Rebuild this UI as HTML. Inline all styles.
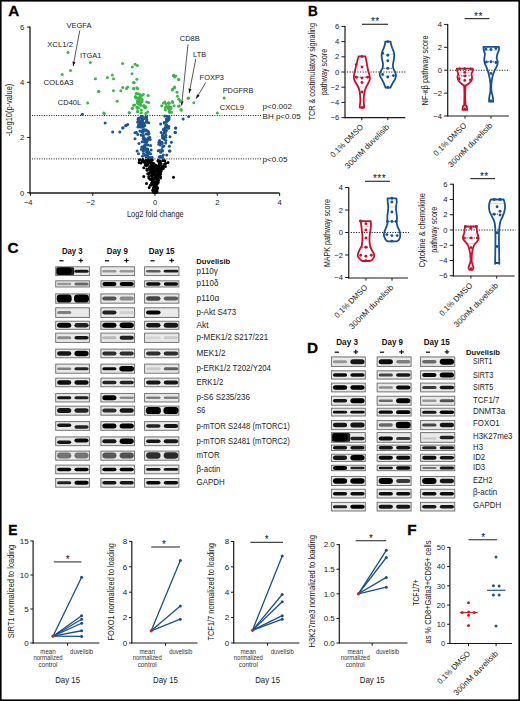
<!DOCTYPE html>
<html><head><meta charset="utf-8"><style>
html,body{margin:0;padding:0;background:#fff;}
svg{display:block;font-family:"Liberation Sans", sans-serif;}
</style></head><body>
<svg width="520" height="701" viewBox="0 0 520 701">
<defs><filter id="bl" x="-30%" y="-60%" width="160%" height="220%"><feGaussianBlur stdDeviation="0.65"/></filter><filter id="bs" x="-10%" y="-30%" width="120%" height="160%"><feGaussianBlur stdDeviation="0.35"/></filter></defs>
<rect x="0" y="0" width="520" height="701" fill="#fff"/>
<text x="8.2" y="16.4" font-size="15.3" text-anchor="start" font-weight="bold" fill="#000" stroke="#000" stroke-width="0.3">A</text>
<line x1="30" y1="26.5" x2="30" y2="193.6" stroke="#1a1a1a" stroke-width="1.3" />
<line x1="29.4" y1="192.9" x2="279.5" y2="192.9" stroke="#1a1a1a" stroke-width="1.5" />
<line x1="27.2" y1="192.7" x2="30" y2="192.7" stroke="#1a1a1a" stroke-width="1.1" />
<text x="24.3" y="195.6" font-size="7.7" text-anchor="end" font-weight="normal" fill="#222" >0</text>
<line x1="27.2" y1="137.5" x2="30" y2="137.5" stroke="#1a1a1a" stroke-width="1.1" />
<text x="24.3" y="140.4" font-size="7.7" text-anchor="end" font-weight="normal" fill="#222" >2</text>
<line x1="27.2" y1="82.29999999999998" x2="30" y2="82.29999999999998" stroke="#1a1a1a" stroke-width="1.1" />
<text x="24.3" y="85.19999999999999" font-size="7.7" text-anchor="end" font-weight="normal" fill="#222" >4</text>
<line x1="27.2" y1="27.099999999999966" x2="30" y2="27.099999999999966" stroke="#1a1a1a" stroke-width="1.1" />
<text x="24.3" y="29.999999999999964" font-size="7.7" text-anchor="end" font-weight="normal" fill="#222" >6</text>
<line x1="30.400000000000006" y1="193" x2="30.400000000000006" y2="195.8" stroke="#1a1a1a" stroke-width="1.1" />
<text x="32.60000000000001" y="204.7" font-size="7.6" text-anchor="end" font-weight="normal" fill="#222" >−4</text>
<line x1="92.7" y1="193" x2="92.7" y2="195.8" stroke="#1a1a1a" stroke-width="1.1" />
<text x="94.9" y="204.7" font-size="7.6" text-anchor="end" font-weight="normal" fill="#222" >−2</text>
<line x1="155.0" y1="193" x2="155.0" y2="195.8" stroke="#1a1a1a" stroke-width="1.1" />
<text x="157.2" y="204.7" font-size="7.6" text-anchor="end" font-weight="normal" fill="#222" >0</text>
<line x1="217.3" y1="193" x2="217.3" y2="195.8" stroke="#1a1a1a" stroke-width="1.1" />
<text x="219.5" y="204.7" font-size="7.6" text-anchor="end" font-weight="normal" fill="#222" >2</text>
<line x1="279.6" y1="193" x2="279.6" y2="195.8" stroke="#1a1a1a" stroke-width="1.1" />
<text x="281.8" y="204.7" font-size="7.6" text-anchor="end" font-weight="normal" fill="#222" >4</text>
<text x="127.0" y="216.5" font-size="9" text-anchor="start" font-weight="normal" fill="#222" textLength="56.6" lengthAdjust="spacingAndGlyphs" >Log2 fold change</text>
<text transform="translate(12.2,110) rotate(-90)" x="0" y="0" font-size="8.3" text-anchor="middle" font-weight="normal" fill="#222" textLength="52.5" lengthAdjust="spacingAndGlyphs" >-Log10(p-value)</text>
<line x1="32" y1="115.5" x2="261.5" y2="115.5" stroke="#222" stroke-width="1" stroke-dasharray="1 1.4"/>
<line x1="32" y1="158.9" x2="261.5" y2="158.9" stroke="#222" stroke-width="1" stroke-dasharray="1 1.4"/>
<text x="262.6" y="109.1" font-size="8" text-anchor="start" font-weight="normal" fill="#1a1a1a" textLength="29.4" lengthAdjust="spacingAndGlyphs" >p&lt;0.002</text>
<text x="262.6" y="119" font-size="8" text-anchor="start" font-weight="normal" fill="#1a1a1a" textLength="38" lengthAdjust="spacingAndGlyphs" >BH p&lt;0.05</text>
<text x="262.6" y="161.9" font-size="8" text-anchor="start" font-weight="normal" fill="#1a1a1a" textLength="25" lengthAdjust="spacingAndGlyphs" >p&lt;0.05</text>
<text x="66.4" y="27.9" font-size="7.6" text-anchor="start" font-weight="normal" fill="#1a1a1a" textLength="25.2" lengthAdjust="spacingAndGlyphs" >VEGFA</text>
<text x="47.2" y="46.9" font-size="7.6" text-anchor="start" font-weight="normal" fill="#1a1a1a" textLength="25.8" lengthAdjust="spacingAndGlyphs" >XCL1/2</text>
<text x="79.9" y="57.9" font-size="7.6" text-anchor="start" font-weight="normal" fill="#1a1a1a" textLength="21.4" lengthAdjust="spacingAndGlyphs" >ITGA1</text>
<text x="43.4" y="84.6" font-size="7.6" text-anchor="start" font-weight="normal" fill="#1a1a1a" textLength="30.1" lengthAdjust="spacingAndGlyphs" >COL6A3</text>
<text x="57.8" y="105.4" font-size="7.6" text-anchor="start" font-weight="normal" fill="#1a1a1a" textLength="23.4" lengthAdjust="spacingAndGlyphs" >CD40L</text>
<text x="179.8" y="41.4" font-size="7.6" text-anchor="start" font-weight="normal" fill="#1a1a1a" textLength="20" lengthAdjust="spacingAndGlyphs" >CD8B</text>
<text x="193.1" y="57" font-size="7.6" text-anchor="start" font-weight="normal" fill="#1a1a1a" textLength="13" lengthAdjust="spacingAndGlyphs" >LTB</text>
<text x="199.6" y="80" font-size="7.6" text-anchor="start" font-weight="normal" fill="#1a1a1a" textLength="24.4" lengthAdjust="spacingAndGlyphs" >FOXP3</text>
<text x="222.7" y="93.4" font-size="7.6" text-anchor="start" font-weight="normal" fill="#1a1a1a" textLength="30.6" lengthAdjust="spacingAndGlyphs" >PDGFRB</text>
<text x="219.7" y="109.5" font-size="7.6" text-anchor="start" font-weight="normal" fill="#1a1a1a" textLength="24.4" lengthAdjust="spacingAndGlyphs" >CXCL9</text>
<line x1="79.8" y1="30.4" x2="73.2" y2="66.0" stroke="#111" stroke-width="0.7" />
<polygon points="73.20,66.00 72.39,61.58 75.54,62.16" fill="#111"/>
<line x1="188" y1="44.3" x2="181.6" y2="105.5" stroke="#111" stroke-width="0.7" />
<polygon points="181.60,105.50 180.45,101.16 183.63,101.49" fill="#111"/>
<line x1="195.8" y1="58.8" x2="189.2" y2="93" stroke="#111" stroke-width="0.7" />
<polygon points="189.20,93.00 188.42,88.57 191.57,89.18" fill="#111"/>
<line x1="205.8" y1="82.4" x2="196.2" y2="98.6" stroke="#111" stroke-width="0.7" />
<polygon points="196.20,98.60 196.96,94.17 199.72,95.80" fill="#111"/>
<circle cx="82.3" cy="114.3" r="1.5" fill="#1a5590"/>
<circle cx="105.1" cy="123.1" r="1.5" fill="#1a5590"/>
<circle cx="123.1" cy="127.7" r="1.5" fill="#1a5590"/>
<circle cx="127.7" cy="124.6" r="1.5" fill="#1a5590"/>
<circle cx="112.7" cy="132.0" r="1.5" fill="#1a5590"/>
<circle cx="119.8" cy="132.0" r="1.5" fill="#1a5590"/>
<circle cx="122.7" cy="128.0" r="1.5" fill="#1a5590"/>
<circle cx="125.6" cy="125.6" r="1.5" fill="#1a5590"/>
<circle cx="126.3" cy="125.4" r="1.5" fill="#1a5590"/>
<circle cx="135.0" cy="138.8" r="1.5" fill="#1a5590"/>
<circle cx="137.1" cy="151.0" r="1.5" fill="#1a5590"/>
<circle cx="138.5" cy="153.7" r="1.5" fill="#1a5590"/>
<circle cx="175.5" cy="128.0" r="1.5" fill="#1a5590"/>
<circle cx="175.5" cy="132.4" r="1.5" fill="#1a5590"/>
<circle cx="170.0" cy="136.8" r="1.5" fill="#1a5590"/>
<circle cx="171.4" cy="142.2" r="1.5" fill="#1a5590"/>
<circle cx="169.4" cy="146.2" r="1.5" fill="#1a5590"/>
<circle cx="169.4" cy="151.0" r="1.5" fill="#1a5590"/>
<circle cx="183.1" cy="118.9" r="1.5" fill="#1a5590"/>
<circle cx="188.7" cy="116.6" r="1.5" fill="#1a5590"/>
<circle cx="175.8" cy="128.0" r="1.5" fill="#1a5590"/>
<circle cx="175.0" cy="132.3" r="1.5" fill="#1a5590"/>
<circle cx="166.7" cy="155.0" r="1.5" fill="#1a5590"/>
<circle cx="170.0" cy="151.0" r="1.5" fill="#1a5590"/>
<circle cx="138.4" cy="118.3" r="1.5" fill="#1a5590"/>
<circle cx="148.3" cy="153.8" r="1.5" fill="#1a5590"/>
<circle cx="141.6" cy="149.5" r="1.5" fill="#1a5590"/>
<circle cx="142.9" cy="132.5" r="1.5" fill="#1a5590"/>
<circle cx="146.4" cy="142.6" r="1.5" fill="#1a5590"/>
<circle cx="144.0" cy="118.6" r="1.5" fill="#1a5590"/>
<circle cx="143.5" cy="122.8" r="1.5" fill="#1a5590"/>
<circle cx="143.8" cy="130.3" r="1.5" fill="#1a5590"/>
<circle cx="142.5" cy="122.4" r="1.5" fill="#1a5590"/>
<circle cx="141.7" cy="120.3" r="1.5" fill="#1a5590"/>
<circle cx="147.6" cy="152.7" r="1.5" fill="#1a5590"/>
<circle cx="146.7" cy="141.8" r="1.5" fill="#1a5590"/>
<circle cx="145.6" cy="130.6" r="1.5" fill="#1a5590"/>
<circle cx="148.1" cy="131.3" r="1.5" fill="#1a5590"/>
<circle cx="151.1" cy="157.7" r="1.5" fill="#1a5590"/>
<circle cx="143.3" cy="135.6" r="1.5" fill="#1a5590"/>
<circle cx="142.3" cy="120.3" r="1.5" fill="#1a5590"/>
<circle cx="143.2" cy="130.4" r="1.5" fill="#1a5590"/>
<circle cx="148.7" cy="122.8" r="1.5" fill="#1a5590"/>
<circle cx="145.7" cy="117.0" r="1.5" fill="#1a5590"/>
<circle cx="141.2" cy="122.2" r="1.5" fill="#1a5590"/>
<circle cx="148.5" cy="138.8" r="1.5" fill="#1a5590"/>
<circle cx="148.3" cy="157.1" r="1.5" fill="#1a5590"/>
<circle cx="146.5" cy="152.3" r="1.5" fill="#1a5590"/>
<circle cx="141.6" cy="131.4" r="1.5" fill="#1a5590"/>
<circle cx="143.1" cy="123.0" r="1.5" fill="#1a5590"/>
<circle cx="143.4" cy="148.7" r="1.5" fill="#1a5590"/>
<circle cx="144.6" cy="129.8" r="1.5" fill="#1a5590"/>
<circle cx="152.1" cy="157.4" r="1.5" fill="#1a5590"/>
<circle cx="148.6" cy="151.8" r="1.5" fill="#1a5590"/>
<circle cx="141.8" cy="147.1" r="1.5" fill="#1a5590"/>
<circle cx="140.0" cy="125.5" r="1.5" fill="#1a5590"/>
<circle cx="141.3" cy="117.2" r="1.5" fill="#1a5590"/>
<circle cx="141.2" cy="117.2" r="1.5" fill="#1a5590"/>
<circle cx="148.0" cy="145.1" r="1.5" fill="#1a5590"/>
<circle cx="142.5" cy="156.2" r="1.5" fill="#1a5590"/>
<circle cx="149.7" cy="157.5" r="1.5" fill="#1a5590"/>
<circle cx="146.6" cy="156.1" r="1.5" fill="#1a5590"/>
<circle cx="144.7" cy="125.5" r="1.5" fill="#1a5590"/>
<circle cx="144.1" cy="124.3" r="1.5" fill="#1a5590"/>
<circle cx="150.6" cy="153.8" r="1.5" fill="#1a5590"/>
<circle cx="143.4" cy="151.3" r="1.5" fill="#1a5590"/>
<circle cx="147.2" cy="149.6" r="1.5" fill="#1a5590"/>
<circle cx="138.1" cy="119.6" r="1.5" fill="#1a5590"/>
<circle cx="141.8" cy="148.9" r="1.5" fill="#1a5590"/>
<circle cx="144.8" cy="147.5" r="1.5" fill="#1a5590"/>
<circle cx="146.8" cy="149.1" r="1.5" fill="#1a5590"/>
<circle cx="146.3" cy="130.0" r="1.5" fill="#1a5590"/>
<circle cx="136.4" cy="132.6" r="1.5" fill="#1a5590"/>
<circle cx="148.7" cy="132.9" r="1.5" fill="#1a5590"/>
<circle cx="140.9" cy="123.1" r="1.5" fill="#1a5590"/>
<circle cx="146.6" cy="121.3" r="1.5" fill="#1a5590"/>
<circle cx="151.2" cy="149.9" r="1.5" fill="#1a5590"/>
<circle cx="146.8" cy="122.1" r="1.5" fill="#1a5590"/>
<circle cx="139.0" cy="143.6" r="1.5" fill="#1a5590"/>
<circle cx="142.2" cy="130.7" r="1.5" fill="#1a5590"/>
<circle cx="141.0" cy="116.6" r="1.5" fill="#1a5590"/>
<circle cx="146.1" cy="156.8" r="1.5" fill="#1a5590"/>
<circle cx="145.2" cy="155.2" r="1.5" fill="#1a5590"/>
<circle cx="148.2" cy="134.2" r="1.5" fill="#1a5590"/>
<circle cx="138.5" cy="124.9" r="1.5" fill="#1a5590"/>
<circle cx="142.5" cy="126.6" r="1.5" fill="#1a5590"/>
<circle cx="147.3" cy="140.6" r="1.5" fill="#1a5590"/>
<circle cx="141.7" cy="126.9" r="1.5" fill="#1a5590"/>
<circle cx="148.0" cy="154.2" r="1.5" fill="#1a5590"/>
<circle cx="139.9" cy="130.9" r="1.5" fill="#1a5590"/>
<circle cx="148.2" cy="154.0" r="1.5" fill="#1a5590"/>
<circle cx="147.3" cy="133.7" r="1.5" fill="#1a5590"/>
<circle cx="143.3" cy="138.3" r="1.5" fill="#1a5590"/>
<circle cx="148.0" cy="138.0" r="1.5" fill="#1a5590"/>
<circle cx="143.1" cy="123.7" r="1.5" fill="#1a5590"/>
<circle cx="142.2" cy="116.2" r="1.5" fill="#1a5590"/>
<circle cx="142.9" cy="135.9" r="1.5" fill="#1a5590"/>
<circle cx="144.0" cy="146.5" r="1.5" fill="#1a5590"/>
<circle cx="144.0" cy="137.8" r="1.5" fill="#1a5590"/>
<circle cx="145.4" cy="139.3" r="1.5" fill="#1a5590"/>
<circle cx="143.8" cy="139.5" r="1.5" fill="#1a5590"/>
<circle cx="142.2" cy="126.4" r="1.5" fill="#1a5590"/>
<circle cx="149.7" cy="137.3" r="1.5" fill="#1a5590"/>
<circle cx="145.5" cy="139.6" r="1.5" fill="#1a5590"/>
<circle cx="137.8" cy="134.6" r="1.5" fill="#1a5590"/>
<circle cx="142.2" cy="141.7" r="1.5" fill="#1a5590"/>
<circle cx="145.9" cy="145.1" r="1.5" fill="#1a5590"/>
<circle cx="141.1" cy="135.0" r="1.5" fill="#1a5590"/>
<circle cx="147.1" cy="155.5" r="1.5" fill="#1a5590"/>
<circle cx="150.6" cy="145.4" r="1.5" fill="#1a5590"/>
<circle cx="137.9" cy="126.9" r="1.5" fill="#1a5590"/>
<circle cx="150.2" cy="139.5" r="1.5" fill="#1a5590"/>
<circle cx="140.2" cy="121.8" r="1.5" fill="#1a5590"/>
<circle cx="141.1" cy="121.1" r="1.5" fill="#1a5590"/>
<circle cx="143.5" cy="126.1" r="1.5" fill="#1a5590"/>
<circle cx="139.1" cy="119.1" r="1.5" fill="#1a5590"/>
<circle cx="143.6" cy="153.7" r="1.5" fill="#1a5590"/>
<circle cx="141.5" cy="122.5" r="1.5" fill="#1a5590"/>
<circle cx="137.6" cy="122.0" r="1.5" fill="#1a5590"/>
<circle cx="148.9" cy="153.1" r="1.5" fill="#1a5590"/>
<circle cx="147.4" cy="156.0" r="1.5" fill="#1a5590"/>
<circle cx="135.0" cy="132.7" r="1.5" fill="#1a5590"/>
<circle cx="147.5" cy="151.0" r="1.5" fill="#1a5590"/>
<circle cx="138.9" cy="122.8" r="1.5" fill="#1a5590"/>
<circle cx="145.3" cy="130.2" r="1.5" fill="#1a5590"/>
<circle cx="140.6" cy="124.2" r="1.5" fill="#1a5590"/>
<circle cx="146.7" cy="116.8" r="1.5" fill="#1a5590"/>
<circle cx="144.6" cy="139.3" r="1.5" fill="#1a5590"/>
<circle cx="143.9" cy="129.9" r="1.5" fill="#1a5590"/>
<circle cx="144.6" cy="142.2" r="1.5" fill="#1a5590"/>
<circle cx="147.8" cy="157.4" r="1.5" fill="#1a5590"/>
<circle cx="147.8" cy="149.1" r="1.5" fill="#1a5590"/>
<circle cx="143.0" cy="127.2" r="1.5" fill="#1a5590"/>
<circle cx="142.3" cy="117.7" r="1.5" fill="#1a5590"/>
<circle cx="139.7" cy="121.4" r="1.5" fill="#1a5590"/>
<circle cx="148.9" cy="133.7" r="1.5" fill="#1a5590"/>
<circle cx="140.1" cy="126.9" r="1.5" fill="#1a5590"/>
<circle cx="146.2" cy="122.3" r="1.5" fill="#1a5590"/>
<circle cx="144.4" cy="145.4" r="1.5" fill="#1a5590"/>
<circle cx="146.9" cy="119.8" r="1.5" fill="#1a5590"/>
<circle cx="145.9" cy="133.9" r="1.5" fill="#1a5590"/>
<circle cx="146.5" cy="119.0" r="1.5" fill="#1a5590"/>
<circle cx="145.4" cy="149.7" r="1.5" fill="#1a5590"/>
<circle cx="142.8" cy="119.5" r="1.5" fill="#1a5590"/>
<circle cx="160.8" cy="152.2" r="1.5" fill="#1a5590"/>
<circle cx="162.6" cy="135.1" r="1.5" fill="#1a5590"/>
<circle cx="163.3" cy="154.9" r="1.5" fill="#1a5590"/>
<circle cx="167.1" cy="127.3" r="1.5" fill="#1a5590"/>
<circle cx="167.4" cy="126.0" r="1.5" fill="#1a5590"/>
<circle cx="166.7" cy="120.6" r="1.5" fill="#1a5590"/>
<circle cx="166.3" cy="124.5" r="1.5" fill="#1a5590"/>
<circle cx="163.7" cy="129.1" r="1.5" fill="#1a5590"/>
<circle cx="168.6" cy="128.2" r="1.5" fill="#1a5590"/>
<circle cx="164.6" cy="137.0" r="1.5" fill="#1a5590"/>
<circle cx="168.7" cy="116.8" r="1.5" fill="#1a5590"/>
<circle cx="168.9" cy="126.5" r="1.5" fill="#1a5590"/>
<circle cx="163.8" cy="139.1" r="1.5" fill="#1a5590"/>
<circle cx="160.7" cy="124.0" r="1.5" fill="#1a5590"/>
<circle cx="167.1" cy="120.5" r="1.5" fill="#1a5590"/>
<circle cx="159.3" cy="150.4" r="1.5" fill="#1a5590"/>
<circle cx="162.6" cy="151.1" r="1.5" fill="#1a5590"/>
<circle cx="161.1" cy="132.5" r="1.5" fill="#1a5590"/>
<circle cx="160.5" cy="157.3" r="1.5" fill="#1a5590"/>
<circle cx="166.5" cy="130.4" r="1.5" fill="#1a5590"/>
<circle cx="159.9" cy="142.7" r="1.5" fill="#1a5590"/>
<circle cx="163.9" cy="133.0" r="1.5" fill="#1a5590"/>
<circle cx="166.8" cy="121.5" r="1.5" fill="#1a5590"/>
<circle cx="166.4" cy="119.0" r="1.5" fill="#1a5590"/>
<circle cx="164.3" cy="122.9" r="1.5" fill="#1a5590"/>
<circle cx="168.9" cy="119.5" r="1.5" fill="#1a5590"/>
<circle cx="158.9" cy="144.2" r="1.5" fill="#1a5590"/>
<circle cx="165.3" cy="127.8" r="1.5" fill="#1a5590"/>
<circle cx="165.8" cy="135.3" r="1.5" fill="#1a5590"/>
<circle cx="164.4" cy="122.6" r="1.5" fill="#1a5590"/>
<circle cx="161.3" cy="156.4" r="1.5" fill="#1a5590"/>
<circle cx="159.1" cy="156.9" r="1.5" fill="#1a5590"/>
<circle cx="160.2" cy="156.6" r="1.5" fill="#1a5590"/>
<circle cx="164.9" cy="129.0" r="1.5" fill="#1a5590"/>
<circle cx="164.6" cy="132.0" r="1.5" fill="#1a5590"/>
<circle cx="162.4" cy="135.9" r="1.5" fill="#1a5590"/>
<circle cx="163.7" cy="137.2" r="1.5" fill="#1a5590"/>
<circle cx="166.9" cy="116.2" r="1.5" fill="#1a5590"/>
<circle cx="165.4" cy="132.8" r="1.5" fill="#1a5590"/>
<circle cx="168.6" cy="117.8" r="1.5" fill="#1a5590"/>
<circle cx="165.8" cy="125.8" r="1.5" fill="#1a5590"/>
<circle cx="159.6" cy="140.6" r="1.5" fill="#1a5590"/>
<circle cx="162.1" cy="143.6" r="1.5" fill="#1a5590"/>
<circle cx="163.9" cy="146.1" r="1.5" fill="#1a5590"/>
<circle cx="163.4" cy="129.7" r="1.5" fill="#1a5590"/>
<circle cx="162.7" cy="157.4" r="1.5" fill="#1a5590"/>
<circle cx="165.7" cy="143.0" r="1.5" fill="#1a5590"/>
<circle cx="169.1" cy="117.8" r="1.5" fill="#1a5590"/>
<circle cx="158.9" cy="142.3" r="1.5" fill="#1a5590"/>
<circle cx="162.7" cy="146.8" r="1.5" fill="#1a5590"/>
<circle cx="162.5" cy="138.0" r="1.5" fill="#1a5590"/>
<circle cx="165.7" cy="137.2" r="1.5" fill="#1a5590"/>
<circle cx="158.2" cy="150.7" r="1.5" fill="#1a5590"/>
<circle cx="165.8" cy="140.5" r="1.5" fill="#1a5590"/>
<circle cx="160.4" cy="145.1" r="1.5" fill="#1a5590"/>
<circle cx="166.7" cy="125.7" r="1.5" fill="#1a5590"/>
<circle cx="164.9" cy="131.1" r="1.5" fill="#1a5590"/>
<circle cx="167.8" cy="120.4" r="1.5" fill="#1a5590"/>
<circle cx="160.5" cy="142.4" r="1.5" fill="#1a5590"/>
<circle cx="161.9" cy="142.3" r="1.5" fill="#1a5590"/>
<circle cx="164.7" cy="116.1" r="1.5" fill="#1a5590"/>
<circle cx="161.8" cy="149.5" r="1.5" fill="#1a5590"/>
<circle cx="139.1" cy="162.5" r="1.5" fill="#000"/>
<circle cx="168.0" cy="162.5" r="1.5" fill="#000"/>
<circle cx="173.5" cy="177.3" r="1.5" fill="#000"/>
<circle cx="143.8" cy="176.6" r="1.5" fill="#000"/>
<circle cx="146.5" cy="183.4" r="1.5" fill="#000"/>
<circle cx="149.2" cy="187.4" r="1.5" fill="#000"/>
<circle cx="165.4" cy="166.5" r="1.5" fill="#000"/>
<circle cx="161.0" cy="171.0" r="1.5" fill="#000"/>
<circle cx="163.0" cy="160.5" r="1.5" fill="#000"/>
<circle cx="154.8" cy="177.2" r="1.5" fill="#000"/>
<circle cx="160.0" cy="161.7" r="1.5" fill="#000"/>
<circle cx="159.7" cy="168.3" r="1.5" fill="#000"/>
<circle cx="162.3" cy="166.3" r="1.5" fill="#000"/>
<circle cx="150.9" cy="172.1" r="1.5" fill="#000"/>
<circle cx="154.7" cy="182.1" r="1.5" fill="#000"/>
<circle cx="145.7" cy="162.1" r="1.5" fill="#000"/>
<circle cx="157.6" cy="167.9" r="1.5" fill="#000"/>
<circle cx="152.3" cy="159.9" r="1.5" fill="#000"/>
<circle cx="157.2" cy="168.4" r="1.5" fill="#000"/>
<circle cx="146.8" cy="169.1" r="1.5" fill="#000"/>
<circle cx="155.4" cy="174.8" r="1.5" fill="#000"/>
<circle cx="163.1" cy="166.1" r="1.5" fill="#000"/>
<circle cx="152.7" cy="190.4" r="1.5" fill="#000"/>
<circle cx="155.3" cy="191.4" r="1.5" fill="#000"/>
<circle cx="152.3" cy="168.4" r="1.5" fill="#000"/>
<circle cx="152.1" cy="178.7" r="1.5" fill="#000"/>
<circle cx="159.8" cy="176.8" r="1.5" fill="#000"/>
<circle cx="160.2" cy="176.3" r="1.5" fill="#000"/>
<circle cx="154.9" cy="182.7" r="1.5" fill="#000"/>
<circle cx="145.9" cy="160.3" r="1.5" fill="#000"/>
<circle cx="151.6" cy="175.7" r="1.5" fill="#000"/>
<circle cx="152.4" cy="170.9" r="1.5" fill="#000"/>
<circle cx="154.1" cy="187.2" r="1.5" fill="#000"/>
<circle cx="153.9" cy="163.5" r="1.5" fill="#000"/>
<circle cx="155.9" cy="183.0" r="1.5" fill="#000"/>
<circle cx="160.1" cy="172.5" r="1.5" fill="#000"/>
<circle cx="151.2" cy="178.9" r="1.5" fill="#000"/>
<circle cx="149.7" cy="161.1" r="1.5" fill="#000"/>
<circle cx="155.0" cy="187.0" r="1.5" fill="#000"/>
<circle cx="149.6" cy="168.3" r="1.5" fill="#000"/>
<circle cx="155.9" cy="165.8" r="1.5" fill="#000"/>
<circle cx="155.1" cy="186.3" r="1.5" fill="#000"/>
<circle cx="153.7" cy="189.6" r="1.5" fill="#000"/>
<circle cx="158.6" cy="161.1" r="1.5" fill="#000"/>
<circle cx="156.5" cy="174.4" r="1.5" fill="#000"/>
<circle cx="158.1" cy="161.1" r="1.5" fill="#000"/>
<circle cx="147.9" cy="163.7" r="1.5" fill="#000"/>
<circle cx="157.2" cy="183.9" r="1.5" fill="#000"/>
<circle cx="157.6" cy="168.1" r="1.5" fill="#000"/>
<circle cx="154.4" cy="172.5" r="1.5" fill="#000"/>
<circle cx="152.6" cy="164.8" r="1.5" fill="#000"/>
<circle cx="157.1" cy="166.8" r="1.5" fill="#000"/>
<circle cx="155.4" cy="192.4" r="1.5" fill="#000"/>
<circle cx="150.6" cy="162.5" r="1.5" fill="#000"/>
<circle cx="148.8" cy="162.5" r="1.5" fill="#000"/>
<circle cx="157.0" cy="188.8" r="1.5" fill="#000"/>
<circle cx="149.2" cy="173.1" r="1.5" fill="#000"/>
<circle cx="150.6" cy="170.7" r="1.5" fill="#000"/>
<circle cx="160.8" cy="168.7" r="1.5" fill="#000"/>
<circle cx="158.2" cy="180.3" r="1.5" fill="#000"/>
<circle cx="150.1" cy="166.6" r="1.5" fill="#000"/>
<circle cx="159.9" cy="174.2" r="1.5" fill="#000"/>
<circle cx="156.0" cy="187.5" r="1.5" fill="#000"/>
<circle cx="156.4" cy="182.9" r="1.5" fill="#000"/>
<circle cx="159.6" cy="175.1" r="1.5" fill="#000"/>
<circle cx="155.3" cy="190.1" r="1.5" fill="#000"/>
<circle cx="155.6" cy="187.7" r="1.5" fill="#000"/>
<circle cx="151.1" cy="164.6" r="1.5" fill="#000"/>
<circle cx="156.0" cy="182.0" r="1.5" fill="#000"/>
<circle cx="151.5" cy="184.7" r="1.5" fill="#000"/>
<circle cx="152.7" cy="177.7" r="1.5" fill="#000"/>
<circle cx="154.6" cy="189.9" r="1.5" fill="#000"/>
<circle cx="150.7" cy="169.5" r="1.5" fill="#000"/>
<circle cx="155.7" cy="182.6" r="1.5" fill="#000"/>
<circle cx="145.9" cy="161.8" r="1.5" fill="#000"/>
<circle cx="157.6" cy="166.9" r="1.5" fill="#000"/>
<circle cx="139.5" cy="159.8" r="1.5" fill="#000"/>
<circle cx="157.7" cy="180.8" r="1.5" fill="#000"/>
<circle cx="152.0" cy="175.2" r="1.5" fill="#000"/>
<circle cx="157.6" cy="182.8" r="1.5" fill="#000"/>
<circle cx="146.6" cy="160.2" r="1.5" fill="#000"/>
<circle cx="156.2" cy="168.0" r="1.5" fill="#000"/>
<circle cx="155.6" cy="190.0" r="1.5" fill="#000"/>
<circle cx="158.2" cy="173.4" r="1.5" fill="#000"/>
<circle cx="158.8" cy="166.0" r="1.5" fill="#000"/>
<circle cx="155.7" cy="166.3" r="1.5" fill="#000"/>
<circle cx="158.6" cy="169.8" r="1.5" fill="#000"/>
<circle cx="154.7" cy="184.6" r="1.5" fill="#000"/>
<circle cx="155.0" cy="190.9" r="1.5" fill="#000"/>
<circle cx="159.3" cy="173.3" r="1.5" fill="#000"/>
<circle cx="154.2" cy="190.8" r="1.5" fill="#000"/>
<circle cx="155.3" cy="191.6" r="1.5" fill="#000"/>
<circle cx="142.9" cy="161.2" r="1.5" fill="#000"/>
<circle cx="157.1" cy="188.7" r="1.5" fill="#000"/>
<circle cx="154.7" cy="192.4" r="1.5" fill="#000"/>
<circle cx="155.9" cy="190.4" r="1.5" fill="#000"/>
<circle cx="158.1" cy="160.6" r="1.5" fill="#000"/>
<circle cx="152.7" cy="170.4" r="1.5" fill="#000"/>
<circle cx="142.7" cy="159.6" r="1.5" fill="#000"/>
<circle cx="165.6" cy="163.6" r="1.5" fill="#000"/>
<circle cx="152.4" cy="166.3" r="1.5" fill="#000"/>
<circle cx="147.7" cy="173.8" r="1.5" fill="#000"/>
<circle cx="153.2" cy="175.1" r="1.5" fill="#000"/>
<circle cx="157.3" cy="171.5" r="1.5" fill="#000"/>
<circle cx="150.5" cy="160.5" r="1.5" fill="#000"/>
<circle cx="143.1" cy="160.8" r="1.5" fill="#000"/>
<circle cx="159.8" cy="161.6" r="1.5" fill="#000"/>
<circle cx="156.4" cy="189.2" r="1.5" fill="#000"/>
<circle cx="157.1" cy="168.5" r="1.5" fill="#000"/>
<circle cx="152.6" cy="183.1" r="1.5" fill="#000"/>
<circle cx="150.8" cy="168.6" r="1.5" fill="#000"/>
<circle cx="152.7" cy="180.4" r="1.5" fill="#000"/>
<circle cx="139.7" cy="160.3" r="1.5" fill="#000"/>
<circle cx="155.1" cy="191.0" r="1.5" fill="#000"/>
<circle cx="143.8" cy="167.8" r="1.5" fill="#000"/>
<circle cx="159.4" cy="165.5" r="1.5" fill="#000"/>
<circle cx="156.5" cy="183.9" r="1.5" fill="#000"/>
<circle cx="147.3" cy="170.3" r="1.5" fill="#000"/>
<circle cx="159.5" cy="171.4" r="1.5" fill="#000"/>
<circle cx="154.1" cy="184.3" r="1.5" fill="#000"/>
<circle cx="145.9" cy="161.6" r="1.5" fill="#000"/>
<circle cx="154.8" cy="191.8" r="1.5" fill="#000"/>
<circle cx="155.3" cy="192.1" r="1.5" fill="#000"/>
<circle cx="157.8" cy="175.9" r="1.5" fill="#000"/>
<circle cx="148.9" cy="174.2" r="1.5" fill="#000"/>
<circle cx="157.7" cy="181.7" r="1.5" fill="#000"/>
<circle cx="157.4" cy="187.5" r="1.5" fill="#000"/>
<circle cx="161.9" cy="169.2" r="1.5" fill="#000"/>
<circle cx="158.6" cy="171.8" r="1.5" fill="#000"/>
<circle cx="152.4" cy="167.6" r="1.5" fill="#000"/>
<circle cx="155.0" cy="188.7" r="1.5" fill="#000"/>
<circle cx="155.8" cy="192.3" r="1.5" fill="#000"/>
<circle cx="154.1" cy="167.1" r="1.5" fill="#000"/>
<circle cx="141.0" cy="162.9" r="1.5" fill="#000"/>
<circle cx="156.1" cy="186.5" r="1.5" fill="#000"/>
<circle cx="150.3" cy="169.2" r="1.5" fill="#000"/>
<circle cx="153.4" cy="165.8" r="1.5" fill="#000"/>
<circle cx="155.3" cy="171.8" r="1.5" fill="#000"/>
<circle cx="152.7" cy="174.3" r="1.5" fill="#000"/>
<circle cx="152.5" cy="163.0" r="1.5" fill="#000"/>
<circle cx="152.1" cy="180.0" r="1.5" fill="#000"/>
<circle cx="151.2" cy="166.2" r="1.5" fill="#000"/>
<circle cx="156.9" cy="179.3" r="1.5" fill="#000"/>
<circle cx="158.7" cy="170.3" r="1.5" fill="#000"/>
<circle cx="151.4" cy="165.6" r="1.5" fill="#000"/>
<circle cx="155.9" cy="177.6" r="1.5" fill="#000"/>
<circle cx="144.7" cy="162.8" r="1.5" fill="#000"/>
<circle cx="147.6" cy="162.5" r="1.5" fill="#000"/>
<circle cx="153.0" cy="182.4" r="1.5" fill="#000"/>
<circle cx="155.6" cy="191.0" r="1.5" fill="#000"/>
<circle cx="149.0" cy="178.2" r="1.5" fill="#000"/>
<circle cx="155.9" cy="192.4" r="1.5" fill="#000"/>
<circle cx="159.2" cy="166.0" r="1.5" fill="#000"/>
<circle cx="154.6" cy="189.3" r="1.5" fill="#000"/>
<circle cx="155.1" cy="186.6" r="1.5" fill="#000"/>
<circle cx="147.3" cy="164.9" r="1.5" fill="#000"/>
<circle cx="157.8" cy="177.7" r="1.5" fill="#000"/>
<circle cx="152.4" cy="180.0" r="1.5" fill="#000"/>
<circle cx="151.6" cy="176.1" r="1.5" fill="#000"/>
<circle cx="155.9" cy="190.0" r="1.5" fill="#000"/>
<circle cx="158.8" cy="175.7" r="1.5" fill="#000"/>
<circle cx="159.2" cy="163.7" r="1.5" fill="#000"/>
<circle cx="156.9" cy="191.7" r="1.5" fill="#000"/>
<circle cx="159.7" cy="172.3" r="1.5" fill="#000"/>
<circle cx="158.4" cy="180.0" r="1.5" fill="#000"/>
<circle cx="154.5" cy="166.8" r="1.5" fill="#000"/>
<circle cx="156.0" cy="187.4" r="1.5" fill="#000"/>
<circle cx="153.0" cy="172.7" r="1.5" fill="#000"/>
<circle cx="151.4" cy="172.2" r="1.5" fill="#000"/>
<circle cx="156.3" cy="189.1" r="1.5" fill="#000"/>
<circle cx="160.6" cy="178.1" r="1.5" fill="#000"/>
<circle cx="161.0" cy="163.4" r="1.5" fill="#000"/>
<circle cx="156.4" cy="177.7" r="1.5" fill="#000"/>
<circle cx="154.5" cy="178.7" r="1.5" fill="#000"/>
<circle cx="152.7" cy="181.2" r="1.5" fill="#000"/>
<circle cx="153.0" cy="179.9" r="1.5" fill="#000"/>
<circle cx="159.4" cy="167.3" r="1.5" fill="#000"/>
<circle cx="146.5" cy="165.4" r="1.5" fill="#000"/>
<circle cx="147.9" cy="163.0" r="1.5" fill="#000"/>
<circle cx="152.1" cy="174.1" r="1.5" fill="#000"/>
<circle cx="164.8" cy="160.8" r="1.5" fill="#000"/>
<circle cx="154.9" cy="185.2" r="1.5" fill="#000"/>
<circle cx="142.7" cy="161.3" r="1.5" fill="#000"/>
<circle cx="164.6" cy="164.0" r="1.5" fill="#000"/>
<circle cx="155.3" cy="192.4" r="1.5" fill="#000"/>
<circle cx="154.3" cy="191.9" r="1.5" fill="#000"/>
<circle cx="156.1" cy="191.1" r="1.5" fill="#000"/>
<circle cx="156.3" cy="190.2" r="1.5" fill="#000"/>
<circle cx="161.0" cy="171.1" r="1.5" fill="#000"/>
<circle cx="163.3" cy="168.6" r="1.5" fill="#000"/>
<circle cx="151.4" cy="164.2" r="1.5" fill="#000"/>
<circle cx="149.5" cy="168.2" r="1.5" fill="#000"/>
<circle cx="151.5" cy="170.0" r="1.5" fill="#000"/>
<circle cx="155.8" cy="190.4" r="1.5" fill="#000"/>
<circle cx="154.6" cy="189.0" r="1.5" fill="#000"/>
<circle cx="156.2" cy="177.0" r="1.5" fill="#000"/>
<circle cx="155.1" cy="171.4" r="1.5" fill="#000"/>
<circle cx="153.8" cy="188.6" r="1.5" fill="#000"/>
<circle cx="153.7" cy="192.3" r="1.5" fill="#000"/>
<circle cx="161.6" cy="168.2" r="1.5" fill="#000"/>
<circle cx="152.8" cy="178.6" r="1.5" fill="#000"/>
<circle cx="156.1" cy="165.3" r="1.5" fill="#000"/>
<circle cx="160.1" cy="161.1" r="1.5" fill="#000"/>
<circle cx="156.4" cy="192.0" r="1.5" fill="#000"/>
<circle cx="153.6" cy="181.4" r="1.5" fill="#000"/>
<circle cx="159.4" cy="164.4" r="1.5" fill="#000"/>
<circle cx="152.6" cy="173.8" r="1.5" fill="#000"/>
<circle cx="158.0" cy="167.0" r="1.5" fill="#000"/>
<circle cx="147.2" cy="160.2" r="1.5" fill="#000"/>
<circle cx="152.1" cy="171.3" r="1.5" fill="#000"/>
<circle cx="157.7" cy="178.8" r="1.5" fill="#000"/>
<circle cx="155.0" cy="175.2" r="1.5" fill="#000"/>
<circle cx="154.9" cy="190.4" r="1.5" fill="#000"/>
<circle cx="157.3" cy="180.6" r="1.5" fill="#000"/>
<circle cx="153.8" cy="185.3" r="1.5" fill="#000"/>
<circle cx="156.9" cy="180.8" r="1.5" fill="#000"/>
<circle cx="152.7" cy="171.1" r="1.5" fill="#000"/>
<circle cx="154.8" cy="183.7" r="1.5" fill="#000"/>
<circle cx="153.3" cy="189.3" r="1.5" fill="#000"/>
<circle cx="149.7" cy="167.3" r="1.5" fill="#000"/>
<circle cx="150.4" cy="185.2" r="1.5" fill="#000"/>
<circle cx="147.1" cy="164.2" r="1.5" fill="#000"/>
<circle cx="150.5" cy="179.6" r="1.5" fill="#000"/>
<circle cx="145.4" cy="165.3" r="1.5" fill="#000"/>
<circle cx="154.4" cy="169.4" r="1.5" fill="#000"/>
<circle cx="151.6" cy="183.1" r="1.5" fill="#000"/>
<circle cx="153.6" cy="187.4" r="1.5" fill="#000"/>
<circle cx="152.6" cy="174.4" r="1.5" fill="#000"/>
<circle cx="152.0" cy="163.0" r="1.5" fill="#000"/>
<circle cx="156.5" cy="184.2" r="1.5" fill="#000"/>
<circle cx="155.5" cy="187.4" r="1.5" fill="#000"/>
<circle cx="160.5" cy="173.9" r="1.5" fill="#000"/>
<circle cx="148.8" cy="176.8" r="1.5" fill="#000"/>
<circle cx="153.4" cy="166.7" r="1.5" fill="#000"/>
<circle cx="148.6" cy="160.0" r="1.5" fill="#000"/>
<circle cx="156.9" cy="190.7" r="1.5" fill="#000"/>
<circle cx="157.4" cy="170.3" r="1.5" fill="#000"/>
<circle cx="156.1" cy="189.4" r="1.5" fill="#000"/>
<circle cx="158.2" cy="182.4" r="1.5" fill="#000"/>
<circle cx="68.0" cy="52.6" r="1.5" fill="#3cb54a"/>
<circle cx="90.3" cy="62.6" r="1.5" fill="#3cb54a"/>
<circle cx="70.5" cy="70.5" r="1.5" fill="#3cb54a"/>
<circle cx="62.2" cy="74.6" r="1.5" fill="#3cb54a"/>
<circle cx="95.4" cy="78.8" r="1.5" fill="#3cb54a"/>
<circle cx="107.4" cy="77.4" r="1.5" fill="#3cb54a"/>
<circle cx="112.3" cy="75.1" r="1.5" fill="#3cb54a"/>
<circle cx="113.5" cy="78.8" r="1.5" fill="#3cb54a"/>
<circle cx="122.6" cy="63.5" r="1.5" fill="#3cb54a"/>
<circle cx="132.3" cy="66.9" r="1.5" fill="#3cb54a"/>
<circle cx="135.1" cy="64.2" r="1.5" fill="#3cb54a"/>
<circle cx="137.4" cy="65.4" r="1.5" fill="#3cb54a"/>
<circle cx="132.0" cy="73.8" r="1.5" fill="#3cb54a"/>
<circle cx="136.9" cy="79.2" r="1.5" fill="#3cb54a"/>
<circle cx="133.5" cy="82.6" r="1.5" fill="#3cb54a"/>
<circle cx="98.9" cy="91.5" r="1.5" fill="#3cb54a"/>
<circle cx="113.4" cy="90.8" r="1.5" fill="#3cb54a"/>
<circle cx="120.8" cy="90.8" r="1.5" fill="#3cb54a"/>
<circle cx="122.6" cy="87.4" r="1.5" fill="#3cb54a"/>
<circle cx="126.5" cy="88.5" r="1.5" fill="#3cb54a"/>
<circle cx="127.7" cy="86.9" r="1.5" fill="#3cb54a"/>
<circle cx="133.5" cy="88.5" r="1.5" fill="#3cb54a"/>
<circle cx="136.9" cy="87.7" r="1.5" fill="#3cb54a"/>
<circle cx="117.2" cy="101.2" r="1.5" fill="#3cb54a"/>
<circle cx="87.7" cy="103.1" r="1.5" fill="#3cb54a"/>
<circle cx="104.3" cy="113.4" r="1.5" fill="#3cb54a"/>
<circle cx="129.2" cy="112.8" r="1.5" fill="#3cb54a"/>
<circle cx="132.3" cy="108.2" r="1.5" fill="#3cb54a"/>
<circle cx="98.6" cy="91.5" r="1.5" fill="#3cb54a"/>
<circle cx="134.2" cy="82.7" r="1.5" fill="#3cb54a"/>
<circle cx="133.8" cy="88.7" r="1.5" fill="#3cb54a"/>
<circle cx="137.7" cy="88.7" r="1.5" fill="#3cb54a"/>
<circle cx="136.2" cy="93.5" r="1.5" fill="#3cb54a"/>
<circle cx="140.4" cy="94.8" r="1.5" fill="#3cb54a"/>
<circle cx="135.2" cy="96.7" r="1.5" fill="#3cb54a"/>
<circle cx="142.0" cy="101.5" r="1.5" fill="#3cb54a"/>
<circle cx="146.7" cy="102.0" r="1.5" fill="#3cb54a"/>
<circle cx="148.6" cy="102.5" r="1.5" fill="#3cb54a"/>
<circle cx="145.8" cy="107.3" r="1.5" fill="#3cb54a"/>
<circle cx="147.7" cy="112.0" r="1.5" fill="#3cb54a"/>
<circle cx="132.3" cy="108.3" r="1.5" fill="#3cb54a"/>
<circle cx="129.4" cy="112.7" r="1.5" fill="#3cb54a"/>
<circle cx="103.8" cy="113.0" r="1.5" fill="#3cb54a"/>
<circle cx="173.7" cy="75.2" r="1.5" fill="#3cb54a"/>
<circle cx="174.6" cy="77.1" r="1.5" fill="#3cb54a"/>
<circle cx="178.5" cy="79.4" r="1.5" fill="#3cb54a"/>
<circle cx="172.7" cy="89.0" r="1.5" fill="#3cb54a"/>
<circle cx="174.6" cy="87.1" r="1.5" fill="#3cb54a"/>
<circle cx="177.5" cy="96.3" r="1.5" fill="#3cb54a"/>
<circle cx="188.0" cy="98.3" r="1.5" fill="#3cb54a"/>
<circle cx="180.4" cy="100.8" r="1.5" fill="#3cb54a"/>
<circle cx="172.7" cy="102.5" r="1.5" fill="#3cb54a"/>
<circle cx="166.0" cy="104.0" r="1.5" fill="#3cb54a"/>
<circle cx="167.9" cy="107.3" r="1.5" fill="#3cb54a"/>
<circle cx="178.5" cy="106.3" r="1.5" fill="#3cb54a"/>
<circle cx="181.3" cy="110.2" r="1.5" fill="#3cb54a"/>
<circle cx="224.2" cy="98.0" r="1.5" fill="#3cb54a"/>
<circle cx="217.3" cy="113.0" r="1.5" fill="#3cb54a"/>
<circle cx="188.5" cy="98.0" r="1.5" fill="#3cb54a"/>
<circle cx="193.8" cy="102.7" r="1.5" fill="#3cb54a"/>
<circle cx="173.5" cy="75.7" r="1.5" fill="#3cb54a"/>
<circle cx="175.8" cy="76.0" r="1.5" fill="#3cb54a"/>
<circle cx="178.8" cy="79.6" r="1.5" fill="#3cb54a"/>
<circle cx="174.6" cy="87.7" r="1.5" fill="#3cb54a"/>
<circle cx="172.3" cy="90.0" r="1.5" fill="#3cb54a"/>
<circle cx="177.0" cy="92.3" r="1.5" fill="#3cb54a"/>
<circle cx="178.8" cy="99.2" r="1.5" fill="#3cb54a"/>
<circle cx="180.4" cy="101.5" r="1.5" fill="#3cb54a"/>
<circle cx="172.3" cy="101.5" r="1.5" fill="#3cb54a"/>
<circle cx="179.2" cy="106.0" r="1.5" fill="#3cb54a"/>
<circle cx="181.0" cy="109.6" r="1.5" fill="#3cb54a"/>
<circle cx="171.0" cy="108.5" r="1.5" fill="#3cb54a"/>
<circle cx="142.2" cy="99.8" r="1.5" fill="#3cb54a"/>
<circle cx="143.3" cy="94.5" r="1.5" fill="#3cb54a"/>
<circle cx="138.8" cy="104.3" r="1.5" fill="#3cb54a"/>
<circle cx="140.3" cy="103.7" r="1.5" fill="#3cb54a"/>
<circle cx="138.4" cy="93.8" r="1.5" fill="#3cb54a"/>
<circle cx="140.0" cy="94.9" r="1.5" fill="#3cb54a"/>
<circle cx="140.3" cy="101.9" r="1.5" fill="#3cb54a"/>
<circle cx="138.0" cy="97.7" r="1.5" fill="#3cb54a"/>
<circle cx="143.5" cy="106.2" r="1.5" fill="#3cb54a"/>
<circle cx="138.1" cy="101.3" r="1.5" fill="#3cb54a"/>
<circle cx="145.6" cy="113.5" r="1.5" fill="#3cb54a"/>
<circle cx="141.3" cy="99.1" r="1.5" fill="#3cb54a"/>
<circle cx="141.5" cy="96.0" r="1.5" fill="#3cb54a"/>
<circle cx="141.4" cy="110.1" r="1.5" fill="#3cb54a"/>
<circle cx="135.5" cy="96.8" r="1.5" fill="#3cb54a"/>
<circle cx="137.3" cy="100.8" r="1.5" fill="#3cb54a"/>
<circle cx="140.5" cy="104.5" r="1.5" fill="#3cb54a"/>
<circle cx="139.9" cy="97.3" r="1.5" fill="#3cb54a"/>
<circle cx="137.0" cy="107.3" r="1.5" fill="#3cb54a"/>
<circle cx="140.7" cy="105.3" r="1.5" fill="#3cb54a"/>
<circle cx="137.7" cy="102.5" r="1.5" fill="#3cb54a"/>
<circle cx="144.9" cy="107.7" r="1.5" fill="#3cb54a"/>
<circle cx="136.0" cy="98.1" r="1.5" fill="#3cb54a"/>
<circle cx="137.7" cy="111.4" r="1.5" fill="#3cb54a"/>
<circle cx="137.4" cy="108.3" r="1.5" fill="#3cb54a"/>
<circle cx="148.2" cy="95.5" r="1.5" fill="#3cb54a"/>
<circle cx="139.6" cy="101.8" r="1.5" fill="#3cb54a"/>
<circle cx="137.7" cy="103.3" r="1.5" fill="#3cb54a"/>
<circle cx="136.8" cy="93.8" r="1.5" fill="#3cb54a"/>
<circle cx="134.8" cy="105.0" r="1.5" fill="#3cb54a"/>
<circle cx="137.6" cy="111.4" r="1.5" fill="#3cb54a"/>
<circle cx="144.0" cy="105.5" r="1.5" fill="#3cb54a"/>
<circle cx="133.6" cy="105.2" r="1.5" fill="#3cb54a"/>
<circle cx="141.2" cy="112.8" r="1.5" fill="#3cb54a"/>
<circle cx="138.9" cy="103.0" r="1.5" fill="#3cb54a"/>
<circle cx="138.5" cy="107.7" r="1.5" fill="#3cb54a"/>
<circle cx="145.4" cy="106.6" r="1.5" fill="#3cb54a"/>
<circle cx="139.2" cy="99.0" r="1.5" fill="#3cb54a"/>
<circle cx="139.2" cy="101.1" r="1.5" fill="#3cb54a"/>
<circle cx="138.9" cy="102.7" r="1.5" fill="#3cb54a"/>
<circle cx="169.3" cy="103.2" r="1.5" fill="#3cb54a"/>
<circle cx="169.2" cy="111.0" r="1.5" fill="#3cb54a"/>
<circle cx="168.5" cy="102.7" r="1.5" fill="#3cb54a"/>
<circle cx="171.5" cy="112.3" r="1.5" fill="#3cb54a"/>
<circle cx="164.9" cy="102.0" r="1.5" fill="#3cb54a"/>
<circle cx="169.7" cy="112.5" r="1.5" fill="#3cb54a"/>
<circle cx="170.1" cy="111.7" r="1.5" fill="#3cb54a"/>
<circle cx="166.7" cy="106.4" r="1.5" fill="#3cb54a"/>
<circle cx="174.1" cy="105.7" r="1.5" fill="#3cb54a"/>
<circle cx="163.5" cy="103.0" r="1.5" fill="#3cb54a"/>
<circle cx="168.7" cy="103.3" r="1.5" fill="#3cb54a"/>
<circle cx="170.7" cy="107.3" r="1.5" fill="#3cb54a"/>
<circle cx="168.5" cy="108.7" r="1.5" fill="#3cb54a"/>
<circle cx="168.8" cy="106.4" r="1.5" fill="#3cb54a"/>
<circle cx="161.7" cy="105.8" r="1.5" fill="#3cb54a"/>
<circle cx="165.5" cy="110.0" r="1.5" fill="#3cb54a"/>
<circle cx="165.2" cy="107.7" r="1.5" fill="#3cb54a"/>
<text x="308.0" y="16.0" font-size="15.3" text-anchor="start" font-weight="bold" fill="#000" textLength="9.8" lengthAdjust="spacingAndGlyphs" stroke="#000" stroke-width="0.3">B</text>
<line x1="345" y1="25.9" x2="345" y2="118.19999999999999" stroke="#1a1a1a" stroke-width="1.2" />
<line x1="344.4" y1="117.6" x2="405.3" y2="117.6" stroke="#1a1a1a" stroke-width="1.2" />
<line x1="341.4" y1="26.400000000000006" x2="345" y2="26.400000000000006" stroke="#1a1a1a" stroke-width="1" />
<text x="339.2" y="29.000000000000007" font-size="7.6" text-anchor="end" font-weight="normal" fill="#1a1a1a" >6</text>
<line x1="341.4" y1="41.6" x2="345" y2="41.6" stroke="#1a1a1a" stroke-width="1" />
<text x="339.2" y="44.2" font-size="7.6" text-anchor="end" font-weight="normal" fill="#1a1a1a" >4</text>
<line x1="341.4" y1="56.8" x2="345" y2="56.8" stroke="#1a1a1a" stroke-width="1" />
<text x="339.2" y="59.4" font-size="7.6" text-anchor="end" font-weight="normal" fill="#1a1a1a" >2</text>
<line x1="341.4" y1="72.0" x2="345" y2="72.0" stroke="#1a1a1a" stroke-width="1" />
<text x="339.2" y="74.6" font-size="7.6" text-anchor="end" font-weight="normal" fill="#1a1a1a" >0</text>
<line x1="341.4" y1="87.2" x2="345" y2="87.2" stroke="#1a1a1a" stroke-width="1" />
<text x="339.2" y="89.8" font-size="7.6" text-anchor="end" font-weight="normal" fill="#1a1a1a" >−2</text>
<line x1="341.4" y1="102.4" x2="345" y2="102.4" stroke="#1a1a1a" stroke-width="1" />
<text x="339.2" y="105.0" font-size="7.6" text-anchor="end" font-weight="normal" fill="#1a1a1a" >−4</text>
<line x1="341.4" y1="117.6" x2="345" y2="117.6" stroke="#1a1a1a" stroke-width="1" />
<text x="339.2" y="120.19999999999999" font-size="7.6" text-anchor="end" font-weight="normal" fill="#1a1a1a" >−6</text>
<line x1="361.8" y1="117.6" x2="361.8" y2="120.19999999999999" stroke="#1a1a1a" stroke-width="1" />
<line x1="387.8" y1="117.6" x2="387.8" y2="120.19999999999999" stroke="#1a1a1a" stroke-width="1" />
<line x1="362.0" y1="24.3" x2="388.0" y2="24.3" stroke="#333" stroke-width="1.2" />
<text x="375.3" y="25.3" font-size="10" text-anchor="middle" font-weight="normal" fill="#111" letter-spacing="0.5">**</text>
<line x1="347" y1="72.0" x2="406.3" y2="72.0" stroke="#222" stroke-width="1.1" stroke-dasharray="1.2 1.4"/>
<text transform="translate(314.9,71.8) rotate(-90)" x="0" y="0" font-size="9.1" text-anchor="middle" font-weight="normal" fill="#222" textLength="97.5" lengthAdjust="spacingAndGlyphs" >TCR &amp; costimulatory signaling</text>
<text transform="translate(326.6,72.0) rotate(-90)" x="0" y="0" font-size="9.1" text-anchor="middle" font-weight="normal" fill="#222" textLength="46.5" lengthAdjust="spacingAndGlyphs" >pathway score</text>
<text transform="translate(363.8,127.6) rotate(-45)" x="0" y="0" font-size="8" text-anchor="end" font-weight="normal" fill="#1a1a1a" textLength="43" lengthAdjust="spacingAndGlyphs" >0.1% DMSO</text>
<text transform="translate(389.8,127.6) rotate(-45)" x="0" y="0" font-size="8" text-anchor="end" font-weight="normal" fill="#1a1a1a" textLength="59" lengthAdjust="spacingAndGlyphs" >300nM duvelisib</text>
<line x1="357.1058823529412" y1="65.8" x2="366.1862745098039" y2="65.8" stroke="#c8102e" stroke-width="0.6" opacity="0.35"/>
<line x1="359.1047619047619" y1="87" x2="365.29523809523806" y2="87" stroke="#c8102e" stroke-width="0.6" opacity="0.35"/>
<line x1="354.96285714285716" y1="77.2" x2="368.71142857142854" y2="77.2" stroke="#333" stroke-width="0.9" stroke-dasharray="1.3 1.1"/>
<path d="M358.60,56.40 L365.40,56.40 C365.55,57.05 366.02,58.80 366.30,60.30 C366.58,61.80 366.78,63.70 367.10,65.40 C367.42,67.10 367.83,68.93 368.20,70.50 C368.57,72.07 369.02,73.50 369.30,74.80 C369.58,76.10 369.95,77.15 369.90,78.30 C369.85,79.45 369.53,80.42 369.00,81.70 C368.47,82.98 367.37,84.58 366.70,86.00 C366.03,87.42 365.45,88.63 365.00,90.20 C364.55,91.77 364.22,93.53 364.00,95.40 C363.78,97.27 363.68,99.68 363.70,101.40 C363.72,103.12 364.03,104.68 364.10,105.70 C364.17,106.72 364.10,107.20 364.10,107.50 L359.80,107.50 C359.80,107.20 359.72,106.72 359.80,105.70 C359.88,104.68 360.25,103.12 360.30,101.40 C360.35,99.68 360.25,97.27 360.10,95.40 C359.95,93.53 359.80,91.77 359.40,90.20 C359.00,88.63 358.42,87.42 357.70,86.00 C356.98,84.58 355.73,82.98 355.10,81.70 C354.47,80.42 354.07,79.45 353.90,78.30 C353.73,77.15 353.92,76.10 354.10,74.80 C354.28,73.50 354.65,72.07 355.00,70.50 C355.35,68.93 355.78,67.10 356.20,65.40 C356.62,63.70 357.10,61.80 357.50,60.30 C357.90,58.80 358.42,57.05 358.60,56.40 Z" fill="none" stroke="#c8102e" stroke-width="1.8" stroke-linejoin="round"/>
<circle cx="356.2" cy="64.7" r="1.45" fill="#c8102e"/>
<circle cx="362.0" cy="67.1" r="1.45" fill="#c8102e"/>
<circle cx="356.4" cy="77.2" r="1.45" fill="#c8102e"/>
<circle cx="362.0" cy="78.1" r="1.45" fill="#c8102e"/>
<circle cx="367.6" cy="77.2" r="1.45" fill="#c8102e"/>
<circle cx="362.0" cy="82.5" r="1.45" fill="#c8102e"/>
<circle cx="362.0" cy="92.0" r="1.45" fill="#c8102e"/>
<circle cx="362.0" cy="56.4" r="1.45" fill="#c8102e"/>
<circle cx="362.0" cy="107.6" r="1.45" fill="#c8102e"/>
<line x1="382.84000000000003" y1="54.4" x2="393.04" y2="54.4" stroke="#14528f" stroke-width="0.6" opacity="0.35"/>
<line x1="381.2" y1="76" x2="394.8" y2="76" stroke="#14528f" stroke-width="0.6" opacity="0.35"/>
<line x1="383.36" y1="68.4" x2="392.38" y2="68.4" stroke="#333" stroke-width="0.9" stroke-dasharray="1.3 1.1"/>
<path d="M385.20,41.60 L390.60,41.60 C390.67,42.00 390.73,42.93 391.00,44.00 C391.27,45.07 391.73,46.67 392.20,48.00 C392.67,49.33 393.47,50.67 393.80,52.00 C394.13,53.33 394.20,54.67 394.20,56.00 C394.20,57.33 394.00,58.67 393.80,60.00 C393.60,61.33 393.10,62.67 393.00,64.00 C392.90,65.33 392.87,66.67 393.20,68.00 C393.53,69.33 394.53,70.80 395.00,72.00 C395.47,73.20 396.00,74.00 396.00,75.20 C396.00,76.40 395.57,77.87 395.00,79.20 C394.43,80.53 393.27,82.00 392.60,83.20 C391.93,84.40 391.35,85.67 391.00,86.40 C390.65,87.13 390.58,87.40 390.50,87.60 L385.50,87.60 C385.42,87.40 385.28,87.13 385.00,86.40 C384.72,85.67 384.33,84.40 383.80,83.20 C383.27,82.00 382.47,80.53 381.80,79.20 C381.13,77.87 380.07,76.40 379.80,75.20 C379.53,74.00 379.73,73.20 380.20,72.00 C380.67,70.80 382.13,69.33 382.60,68.00 C383.07,66.67 383.07,65.33 383.00,64.00 C382.93,62.67 382.43,61.33 382.20,60.00 C381.97,58.67 381.60,57.33 381.60,56.00 C381.60,54.67 381.83,53.33 382.20,52.00 C382.57,50.67 383.33,49.33 383.80,48.00 C384.27,46.67 384.77,45.07 385.00,44.00 C385.23,42.93 385.17,42.00 385.20,41.60 Z" fill="none" stroke="#14528f" stroke-width="1.8" stroke-linejoin="round"/>
<circle cx="382.6" cy="53.2" r="1.45" fill="#14528f"/>
<circle cx="387.8" cy="55.2" r="1.45" fill="#14528f"/>
<circle cx="387.8" cy="60.8" r="1.45" fill="#14528f"/>
<circle cx="387.8" cy="68.4" r="1.45" fill="#14528f"/>
<circle cx="382.6" cy="74.4" r="1.45" fill="#14528f"/>
<circle cx="387.8" cy="77.0" r="1.45" fill="#14528f"/>
<circle cx="393.4" cy="75.6" r="1.45" fill="#14528f"/>
<circle cx="387.8" cy="41.6" r="1.45" fill="#14528f"/>
<circle cx="387.8" cy="87.4" r="1.45" fill="#14528f"/>
<line x1="447.7" y1="23.9" x2="447.7" y2="116.6" stroke="#1a1a1a" stroke-width="1.2" />
<line x1="447.09999999999997" y1="116" x2="508.8" y2="116" stroke="#1a1a1a" stroke-width="1.2" />
<line x1="444.09999999999997" y1="24.400000000000006" x2="447.7" y2="24.400000000000006" stroke="#1a1a1a" stroke-width="1" />
<text x="441.9" y="27.000000000000007" font-size="7.6" text-anchor="end" font-weight="normal" fill="#1a1a1a" >4</text>
<line x1="444.09999999999997" y1="47.300000000000004" x2="447.7" y2="47.300000000000004" stroke="#1a1a1a" stroke-width="1" />
<text x="441.9" y="49.900000000000006" font-size="7.6" text-anchor="end" font-weight="normal" fill="#1a1a1a" >2</text>
<line x1="444.09999999999997" y1="70.2" x2="447.7" y2="70.2" stroke="#1a1a1a" stroke-width="1" />
<text x="441.9" y="72.8" font-size="7.6" text-anchor="end" font-weight="normal" fill="#1a1a1a" >0</text>
<line x1="444.09999999999997" y1="93.1" x2="447.7" y2="93.1" stroke="#1a1a1a" stroke-width="1" />
<text x="441.9" y="95.69999999999999" font-size="7.6" text-anchor="end" font-weight="normal" fill="#1a1a1a" >−2</text>
<line x1="444.09999999999997" y1="116.0" x2="447.7" y2="116.0" stroke="#1a1a1a" stroke-width="1" />
<text x="441.9" y="118.6" font-size="7.6" text-anchor="end" font-weight="normal" fill="#1a1a1a" >−4</text>
<line x1="465" y1="116" x2="465" y2="118.6" stroke="#1a1a1a" stroke-width="1" />
<line x1="491" y1="116" x2="491" y2="118.6" stroke="#1a1a1a" stroke-width="1" />
<line x1="464.6" y1="18.6" x2="489.3" y2="18.6" stroke="#333" stroke-width="1.2" />
<text x="478.5" y="19.6" font-size="10" text-anchor="middle" font-weight="normal" fill="#111" letter-spacing="0.5">**</text>
<line x1="449.7" y1="70.2" x2="509.8" y2="70.2" stroke="#222" stroke-width="1.1" stroke-dasharray="1.2 1.4"/>
<text transform="translate(427.6,70.4) rotate(-90)" x="0" y="0" font-size="9.1" text-anchor="middle" font-weight="normal" fill="#222" textLength="70" lengthAdjust="spacingAndGlyphs" >NF-κβ pathway score</text>
<text transform="translate(467.0,126) rotate(-45)" x="0" y="0" font-size="8" text-anchor="end" font-weight="normal" fill="#1a1a1a" textLength="43" lengthAdjust="spacingAndGlyphs" >0.1% DMSO</text>
<text transform="translate(493.0,126) rotate(-45)" x="0" y="0" font-size="8" text-anchor="end" font-weight="normal" fill="#1a1a1a" textLength="59" lengthAdjust="spacingAndGlyphs" >300nM duvelisib</text>
<line x1="458.73333333333335" y1="72.5" x2="471.1066666666667" y2="72.5" stroke="#c8102e" stroke-width="0.6" opacity="0.35"/>
<line x1="458.73333333333335" y1="75.9" x2="470.8333333333333" y2="75.9" stroke="#333" stroke-width="0.9" stroke-dasharray="1.3 1.1"/>
<path d="M456.80,68.70 L472.80,68.70 C472.80,69.07 473.02,70.03 472.80,70.90 C472.58,71.77 471.63,72.90 471.50,73.90 C471.37,74.90 471.95,75.90 472.00,76.90 C472.05,77.90 472.22,78.90 471.80,79.90 C471.38,80.90 470.30,82.07 469.50,82.90 C468.70,83.73 467.67,84.23 467.00,84.90 C466.33,85.57 465.75,83.73 465.50,86.90 C465.25,90.07 465.33,100.73 465.50,103.90 C465.67,107.07 466.22,105.07 466.50,105.90 C466.78,106.73 467.08,108.23 467.20,108.90 C467.32,109.57 467.20,109.73 467.20,109.90 L462.50,109.90 C462.50,109.73 462.38,109.57 462.50,108.90 C462.62,108.23 462.92,106.73 463.20,105.90 C463.48,105.07 464.03,107.07 464.20,103.90 C464.37,100.73 464.43,90.07 464.20,86.90 C463.97,83.73 463.42,85.57 462.80,84.90 C462.18,84.23 461.27,83.73 460.50,82.90 C459.73,82.07 458.70,80.90 458.20,79.90 C457.70,78.90 457.50,77.90 457.50,76.90 C457.50,75.90 458.25,74.90 458.20,73.90 C458.15,72.90 457.43,71.77 457.20,70.90 C456.97,70.03 456.87,69.07 456.80,68.70 Z" fill="none" stroke="#c8102e" stroke-width="1.8" stroke-linejoin="round"/>
<circle cx="459.5" cy="68.9" r="1.45" fill="#c8102e"/>
<circle cx="464.8" cy="68.7" r="1.45" fill="#c8102e"/>
<circle cx="470.5" cy="68.9" r="1.45" fill="#c8102e"/>
<circle cx="464.8" cy="72.4" r="1.45" fill="#c8102e"/>
<circle cx="464.8" cy="75.9" r="1.45" fill="#c8102e"/>
<circle cx="459.2" cy="78.7" r="1.45" fill="#c8102e"/>
<circle cx="464.8" cy="80.4" r="1.45" fill="#c8102e"/>
<circle cx="470.5" cy="79.9" r="1.45" fill="#c8102e"/>
<circle cx="464.8" cy="108.9" r="1.45" fill="#c8102e"/>
<line x1="484.84999999999997" y1="50.5" x2="497.7125" y2="50.5" stroke="#14528f" stroke-width="0.6" opacity="0.35"/>
<line x1="485.4" y1="61.8" x2="496.65" y2="61.8" stroke="#333" stroke-width="0.9" stroke-dasharray="1.3 1.1"/>
<path d="M483.40,46.80 L498.90,46.80 C498.90,47.33 499.15,48.80 498.90,50.00 C498.65,51.20 497.77,52.67 497.40,54.00 C497.03,55.33 496.65,56.67 496.70,58.00 C496.75,59.33 497.67,60.67 497.70,62.00 C497.73,63.33 497.45,64.52 496.90,66.00 C496.35,67.48 495.15,69.08 494.40,70.90 C493.65,72.72 492.90,74.73 492.40,76.90 C491.90,79.07 491.57,81.57 491.40,83.90 C491.23,86.23 491.23,89.07 491.40,90.90 C491.57,92.73 492.12,93.57 492.40,94.90 C492.68,96.23 492.98,97.77 493.10,98.90 C493.22,100.03 493.10,101.23 493.10,101.70 L489.10,101.70 C489.10,101.23 489.00,100.03 489.10,98.90 C489.20,97.77 489.48,96.23 489.70,94.90 C489.92,93.57 490.28,92.73 490.40,90.90 C490.52,89.07 490.57,86.23 490.40,83.90 C490.23,81.57 489.82,79.07 489.40,76.90 C488.98,74.73 488.48,72.72 487.90,70.90 C487.32,69.08 486.48,67.48 485.90,66.00 C485.32,64.52 484.65,63.33 484.40,62.00 C484.15,60.67 484.32,59.33 484.40,58.00 C484.48,56.67 485.02,55.33 484.90,54.00 C484.78,52.67 483.95,51.20 483.70,50.00 C483.45,48.80 483.45,47.33 483.40,46.80 Z" fill="none" stroke="#14528f" stroke-width="1.8" stroke-linejoin="round"/>
<circle cx="485.9" cy="49.2" r="1.45" fill="#14528f"/>
<circle cx="490.9" cy="49.5" r="1.45" fill="#14528f"/>
<circle cx="495.9" cy="48.5" r="1.45" fill="#14528f"/>
<circle cx="486.4" cy="62.0" r="1.45" fill="#14528f"/>
<circle cx="490.9" cy="61.8" r="1.45" fill="#14528f"/>
<circle cx="495.9" cy="62.5" r="1.45" fill="#14528f"/>
<circle cx="490.9" cy="73.4" r="1.45" fill="#14528f"/>
<circle cx="490.9" cy="100.9" r="1.45" fill="#14528f"/>
<line x1="348.75" y1="187.0" x2="348.75" y2="278.6" stroke="#1a1a1a" stroke-width="1.2" />
<line x1="348.15" y1="278" x2="408" y2="278" stroke="#1a1a1a" stroke-width="1.2" />
<line x1="345.15" y1="187.5" x2="348.75" y2="187.5" stroke="#1a1a1a" stroke-width="1" />
<text x="342.95" y="190.1" font-size="7.6" text-anchor="end" font-weight="normal" fill="#1a1a1a" >4</text>
<line x1="345.15" y1="210.0" x2="348.75" y2="210.0" stroke="#1a1a1a" stroke-width="1" />
<text x="342.95" y="212.6" font-size="7.6" text-anchor="end" font-weight="normal" fill="#1a1a1a" >2</text>
<line x1="345.15" y1="232.5" x2="348.75" y2="232.5" stroke="#1a1a1a" stroke-width="1" />
<text x="342.95" y="235.1" font-size="7.6" text-anchor="end" font-weight="normal" fill="#1a1a1a" >0</text>
<line x1="345.15" y1="255.0" x2="348.75" y2="255.0" stroke="#1a1a1a" stroke-width="1" />
<text x="342.95" y="257.6" font-size="7.6" text-anchor="end" font-weight="normal" fill="#1a1a1a" >−2</text>
<line x1="345.15" y1="277.5" x2="348.75" y2="277.5" stroke="#1a1a1a" stroke-width="1" />
<text x="342.95" y="280.1" font-size="7.6" text-anchor="end" font-weight="normal" fill="#1a1a1a" >−4</text>
<line x1="366.0" y1="278" x2="366.0" y2="280.6" stroke="#1a1a1a" stroke-width="1" />
<line x1="392.0" y1="278" x2="392.0" y2="280.6" stroke="#1a1a1a" stroke-width="1" />
<line x1="365.0" y1="181.3" x2="390.0" y2="181.3" stroke="#333" stroke-width="1.2" />
<text x="379.5" y="182.3" font-size="10" text-anchor="middle" font-weight="normal" fill="#111" letter-spacing="0.5">***</text>
<line x1="350.75" y1="232.5" x2="409" y2="232.5" stroke="#222" stroke-width="1.1" stroke-dasharray="1.2 1.4"/>
<text transform="translate(329.6,233.1) rotate(-90)" x="0" y="0" font-size="9.1" text-anchor="middle" font-weight="normal" fill="#222" textLength="68" lengthAdjust="spacingAndGlyphs" >MAPK pathway score</text>
<text transform="translate(368.0,288) rotate(-45)" x="0" y="0" font-size="8" text-anchor="end" font-weight="normal" fill="#1a1a1a" textLength="43" lengthAdjust="spacingAndGlyphs" >0.1% DMSO</text>
<text transform="translate(394.0,288) rotate(-45)" x="0" y="0" font-size="8" text-anchor="end" font-weight="normal" fill="#1a1a1a" textLength="59" lengthAdjust="spacingAndGlyphs" >300nM duvelisib</text>
<line x1="362.3961538461538" y1="226.5" x2="369.83653846153845" y2="226.5" stroke="#c8102e" stroke-width="0.6" opacity="0.35"/>
<line x1="361.8780487804878" y1="247.2" x2="369.6585365853658" y2="247.2" stroke="#333" stroke-width="0.9" stroke-dasharray="1.3 1.1"/>
<path d="M360.70,221.20 L370.70,221.20 C370.75,221.80 371.03,223.33 371.00,224.80 C370.97,226.27 370.72,228.28 370.50,230.00 C370.28,231.72 369.87,233.40 369.70,235.10 C369.53,236.80 369.45,238.48 369.50,240.20 C369.55,241.92 369.67,243.85 370.00,245.40 C370.33,246.95 370.87,248.13 371.50,249.50 C372.13,250.87 373.37,252.40 373.80,253.60 C374.23,254.80 374.40,255.67 374.10,256.70 C373.80,257.73 372.73,259.08 372.00,259.80 C371.27,260.52 370.08,260.80 369.70,261.00 L362.30,261.00 C362.03,260.80 361.42,260.52 360.70,259.80 C359.98,259.08 358.45,257.73 358.00,256.70 C357.55,255.67 357.72,254.80 358.00,253.60 C358.28,252.40 359.07,250.87 359.70,249.50 C360.33,248.13 361.37,246.95 361.80,245.40 C362.23,243.85 362.22,241.92 362.30,240.20 C362.38,238.48 362.38,236.80 362.30,235.10 C362.22,233.40 361.98,231.72 361.80,230.00 C361.62,228.28 361.38,226.27 361.20,224.80 C361.02,223.33 360.78,221.80 360.70,221.20 Z" fill="none" stroke="#c8102e" stroke-width="1.8" stroke-linejoin="round"/>
<circle cx="360.4" cy="220.9" r="1.45" fill="#c8102e"/>
<circle cx="365.9" cy="223.8" r="1.45" fill="#c8102e"/>
<circle cx="365.9" cy="230.0" r="1.45" fill="#c8102e"/>
<circle cx="365.9" cy="238.0" r="1.45" fill="#c8102e"/>
<circle cx="365.9" cy="247.2" r="1.45" fill="#c8102e"/>
<circle cx="360.7" cy="255.2" r="1.45" fill="#c8102e"/>
<circle cx="365.9" cy="256.2" r="1.45" fill="#c8102e"/>
<circle cx="371.3" cy="255.2" r="1.45" fill="#c8102e"/>
<circle cx="365.9" cy="260.8" r="1.45" fill="#c8102e"/>
<line x1="389.16923076923075" y1="207" x2="395.05384615384617" y2="207" stroke="#14528f" stroke-width="0.6" opacity="0.35"/>
<line x1="388.45" y1="221.5" x2="395.775" y2="221.5" stroke="#333" stroke-width="0.9" stroke-dasharray="1.3 1.1"/>
<path d="M387.50,198.30 L396.40,198.30 C396.45,198.95 396.77,200.68 396.70,202.20 C396.63,203.72 396.05,205.68 396.00,207.40 C395.95,209.12 396.23,210.80 396.40,212.50 C396.57,214.20 396.95,215.88 397.00,217.60 C397.05,219.32 396.58,221.25 396.70,222.80 C396.82,224.35 397.23,225.53 397.70,226.90 C398.17,228.27 399.07,229.63 399.50,231.00 C399.93,232.37 400.33,233.73 400.30,235.10 C400.27,236.47 399.90,238.17 399.30,239.20 C398.70,240.23 397.13,240.95 396.70,241.30 L387.50,241.30 C387.15,240.95 386.00,240.23 385.40,239.20 C384.80,238.17 384.02,236.47 383.90,235.10 C383.78,233.73 384.28,232.37 384.70,231.00 C385.12,229.63 385.93,228.27 386.40,226.90 C386.87,225.53 387.35,224.35 387.50,222.80 C387.65,221.25 387.25,219.32 387.30,217.60 C387.35,215.88 387.65,214.20 387.80,212.50 C387.95,210.80 388.20,209.12 388.20,207.40 C388.20,205.68 387.92,203.72 387.80,202.20 C387.68,200.68 387.55,198.95 387.50,198.30 Z" fill="none" stroke="#14528f" stroke-width="1.8" stroke-linejoin="round"/>
<circle cx="391.9" cy="202.0" r="1.45" fill="#14528f"/>
<circle cx="391.9" cy="212.0" r="1.45" fill="#14528f"/>
<circle cx="387.5" cy="221.5" r="1.45" fill="#14528f"/>
<circle cx="391.9" cy="221.5" r="1.45" fill="#14528f"/>
<circle cx="396.0" cy="221.5" r="1.45" fill="#14528f"/>
<circle cx="386.9" cy="234.6" r="1.45" fill="#14528f"/>
<circle cx="391.9" cy="235.6" r="1.45" fill="#14528f"/>
<circle cx="397.2" cy="235.6" r="1.45" fill="#14528f"/>
<circle cx="391.9" cy="241.1" r="1.45" fill="#14528f"/>
<circle cx="391.9" cy="198.3" r="1.45" fill="#14528f"/>
<line x1="453.4" y1="183.7" x2="453.4" y2="276.6" stroke="#1a1a1a" stroke-width="1.2" />
<line x1="452.79999999999995" y1="276" x2="514.7" y2="276" stroke="#1a1a1a" stroke-width="1.2" />
<line x1="449.79999999999995" y1="184.22" x2="453.4" y2="184.22" stroke="#1a1a1a" stroke-width="1" />
<text x="447.59999999999997" y="186.82" font-size="7.6" text-anchor="end" font-weight="normal" fill="#1a1a1a" >6</text>
<line x1="449.79999999999995" y1="199.48" x2="453.4" y2="199.48" stroke="#1a1a1a" stroke-width="1" />
<text x="447.59999999999997" y="202.07999999999998" font-size="7.6" text-anchor="end" font-weight="normal" fill="#1a1a1a" >4</text>
<line x1="449.79999999999995" y1="214.74" x2="453.4" y2="214.74" stroke="#1a1a1a" stroke-width="1" />
<text x="447.59999999999997" y="217.34" font-size="7.6" text-anchor="end" font-weight="normal" fill="#1a1a1a" >2</text>
<line x1="449.79999999999995" y1="230.0" x2="453.4" y2="230.0" stroke="#1a1a1a" stroke-width="1" />
<text x="447.59999999999997" y="232.6" font-size="7.6" text-anchor="end" font-weight="normal" fill="#1a1a1a" >0</text>
<line x1="449.79999999999995" y1="245.26" x2="453.4" y2="245.26" stroke="#1a1a1a" stroke-width="1" />
<text x="447.59999999999997" y="247.85999999999999" font-size="7.6" text-anchor="end" font-weight="normal" fill="#1a1a1a" >−2</text>
<line x1="449.79999999999995" y1="260.52" x2="453.4" y2="260.52" stroke="#1a1a1a" stroke-width="1" />
<text x="447.59999999999997" y="263.12" font-size="7.6" text-anchor="end" font-weight="normal" fill="#1a1a1a" >−4</text>
<line x1="449.79999999999995" y1="275.78" x2="453.4" y2="275.78" stroke="#1a1a1a" stroke-width="1" />
<text x="447.59999999999997" y="278.38" font-size="7.6" text-anchor="end" font-weight="normal" fill="#1a1a1a" >−6</text>
<line x1="470.9" y1="276" x2="470.9" y2="278.6" stroke="#1a1a1a" stroke-width="1" />
<line x1="496.7" y1="276" x2="496.7" y2="278.6" stroke="#1a1a1a" stroke-width="1" />
<line x1="470.29999999999995" y1="178.6" x2="495.0" y2="178.6" stroke="#333" stroke-width="1.2" />
<text x="484.29999999999995" y="179.6" font-size="10" text-anchor="middle" font-weight="normal" fill="#111" letter-spacing="0.5">**</text>
<line x1="455.4" y1="230.0" x2="515.7" y2="230.0" stroke="#222" stroke-width="1.1" stroke-dasharray="1.2 1.4"/>
<text transform="translate(424.6,230.3) rotate(-90)" x="0" y="0" font-size="9.1" text-anchor="middle" font-weight="normal" fill="#222" textLength="74.5" lengthAdjust="spacingAndGlyphs" >Cytokine &amp; chemokine</text>
<text transform="translate(436.6,229.8) rotate(-90)" x="0" y="0" font-size="9.1" text-anchor="middle" font-weight="normal" fill="#222" textLength="46" lengthAdjust="spacingAndGlyphs" >pathway score</text>
<text transform="translate(472.9,286) rotate(-45)" x="0" y="0" font-size="8" text-anchor="end" font-weight="normal" fill="#1a1a1a" textLength="43" lengthAdjust="spacingAndGlyphs" >0.1% DMSO</text>
<text transform="translate(498.7,286) rotate(-45)" x="0" y="0" font-size="8" text-anchor="end" font-weight="normal" fill="#1a1a1a" textLength="59" lengthAdjust="spacingAndGlyphs" >300nM duvelisib</text>
<line x1="467.6235294117647" y1="243.5" x2="474.4823529411765" y2="243.5" stroke="#c8102e" stroke-width="0.6" opacity="0.35"/>
<line x1="464.1" y1="237.9" x2="477.4214285714286" y2="237.9" stroke="#333" stroke-width="0.9" stroke-dasharray="1.3 1.1"/>
<path d="M465.10,226.50 L476.80,226.50 C476.80,226.97 476.73,228.25 476.80,229.30 C476.87,230.35 476.95,231.65 477.20,232.80 C477.45,233.95 478.08,235.17 478.30,236.20 C478.52,237.23 478.75,238.05 478.50,239.00 C478.25,239.95 477.55,240.85 476.80,241.90 C476.05,242.95 474.70,243.97 474.00,245.30 C473.30,246.63 472.95,248.38 472.60,249.90 C472.25,251.42 472.05,252.50 471.90,254.40 C471.75,256.30 471.58,259.58 471.70,261.30 C471.82,263.02 472.32,263.57 472.60,264.70 C472.88,265.83 473.40,267.25 473.40,268.10 C473.40,268.95 472.73,269.52 472.60,269.80 L469.40,269.80 C469.25,269.52 468.50,268.95 468.50,268.10 C468.50,267.25 469.07,265.83 469.40,264.70 C469.73,263.57 470.35,263.02 470.50,261.30 C470.65,259.58 470.48,256.30 470.30,254.40 C470.12,252.50 469.78,251.42 469.40,249.90 C469.02,248.38 468.67,246.63 468.00,245.30 C467.33,243.97 466.22,242.95 465.40,241.90 C464.58,240.85 463.48,239.95 463.10,239.00 C462.72,238.05 462.90,237.23 463.10,236.20 C463.30,235.17 464.05,233.95 464.30,232.80 C464.55,231.65 464.47,230.35 464.60,229.30 C464.73,228.25 465.02,226.97 465.10,226.50 Z" fill="none" stroke="#c8102e" stroke-width="1.8" stroke-linejoin="round"/>
<circle cx="465.4" cy="226.5" r="1.45" fill="#c8102e"/>
<circle cx="470.8" cy="228.2" r="1.45" fill="#c8102e"/>
<circle cx="476.2" cy="226.5" r="1.45" fill="#c8102e"/>
<circle cx="464.3" cy="237.9" r="1.45" fill="#c8102e"/>
<circle cx="471.1" cy="237.9" r="1.45" fill="#c8102e"/>
<circle cx="477.4" cy="237.9" r="1.45" fill="#c8102e"/>
<circle cx="471.1" cy="247.6" r="1.45" fill="#c8102e"/>
<circle cx="471.1" cy="268.7" r="1.45" fill="#c8102e"/>
<line x1="490.3652173913043" y1="203.5" x2="503.7260869565217" y2="203.5" stroke="#14528f" stroke-width="0.6" opacity="0.35"/>
<line x1="496.4" y1="239" x2="498.0" y2="239" stroke="#14528f" stroke-width="0.6" opacity="0.35"/>
<line x1="491.9" y1="214.2" x2="502.46086956521737" y2="214.2" stroke="#333" stroke-width="0.9" stroke-dasharray="1.3 1.1"/>
<path d="M490.80,199.50 L503.60,199.50 C503.78,200.10 504.47,201.73 504.70,203.10 C504.93,204.47 505.08,206.18 505.00,207.70 C504.92,209.22 504.62,210.68 504.20,212.20 C503.78,213.72 503.13,215.27 502.50,216.80 C501.87,218.33 500.88,219.88 500.40,221.40 C499.92,222.92 499.83,224.20 499.60,225.90 C499.37,227.60 499.10,228.37 499.00,231.60 C498.90,234.83 498.95,240.17 499.00,245.30 C499.05,250.43 499.25,259.45 499.30,262.40 C499.35,265.35 499.30,262.90 499.30,263.00 L495.10,263.00 C495.10,262.90 495.05,265.35 495.10,262.40 C495.15,259.45 495.35,250.43 495.40,245.30 C495.45,240.17 495.45,234.83 495.40,231.60 C495.35,228.37 495.28,227.60 495.10,225.90 C494.92,224.20 494.78,222.92 494.30,221.40 C493.82,219.88 492.93,218.33 492.20,216.80 C491.47,215.27 490.43,213.72 489.90,212.20 C489.37,210.68 489.08,209.22 489.00,207.70 C488.92,206.18 489.10,204.47 489.40,203.10 C489.70,201.73 490.57,200.10 490.80,199.50 Z" fill="none" stroke="#14528f" stroke-width="1.8" stroke-linejoin="round"/>
<circle cx="494.3" cy="199.5" r="1.45" fill="#14528f"/>
<circle cx="500.0" cy="199.5" r="1.45" fill="#14528f"/>
<circle cx="497.1" cy="206.8" r="1.45" fill="#14528f"/>
<circle cx="500.0" cy="211.3" r="1.45" fill="#14528f"/>
<circle cx="494.3" cy="214.2" r="1.45" fill="#14528f"/>
<circle cx="500.0" cy="215.1" r="1.45" fill="#14528f"/>
<circle cx="497.1" cy="232.8" r="1.45" fill="#14528f"/>
<circle cx="497.1" cy="246.5" r="1.45" fill="#14528f"/>
<text x="7.4" y="253.2" font-size="15.3" text-anchor="start" font-weight="bold" fill="#000" stroke="#000" stroke-width="0.3">C</text>
<text x="61.9" y="253.6" font-size="8.2" text-anchor="start" font-weight="bold" fill="#111" textLength="20.800000000000004" lengthAdjust="spacingAndGlyphs" >Day 3</text>
<text x="106.7" y="253.6" font-size="8.2" text-anchor="start" font-weight="bold" fill="#111" textLength="21.200000000000003" lengthAdjust="spacingAndGlyphs" >Day 9</text>
<text x="148.7" y="253.6" font-size="8.2" text-anchor="start" font-weight="bold" fill="#111" textLength="25.900000000000006" lengthAdjust="spacingAndGlyphs" >Day 15</text>
<line x1="59.4" y1="260.8" x2="63.6" y2="260.8" stroke="#111" stroke-width="1.3" />
<line x1="78.5" y1="260.5" x2="83.1" y2="260.5" stroke="#111" stroke-width="1.2" />
<line x1="80.8" y1="258.4" x2="80.8" y2="262.6" stroke="#111" stroke-width="1.2" />
<line x1="104.9" y1="260.8" x2="109.1" y2="260.8" stroke="#111" stroke-width="1.3" />
<line x1="124.2" y1="260.5" x2="128.8" y2="260.5" stroke="#111" stroke-width="1.2" />
<line x1="126.5" y1="258.4" x2="126.5" y2="262.6" stroke="#111" stroke-width="1.2" />
<line x1="150.4" y1="260.8" x2="154.6" y2="260.8" stroke="#111" stroke-width="1.3" />
<line x1="169.39999999999998" y1="260.5" x2="174.0" y2="260.5" stroke="#111" stroke-width="1.2" />
<line x1="171.7" y1="258.4" x2="171.7" y2="262.6" stroke="#111" stroke-width="1.2" />
<text x="196.3" y="263.5" font-size="8" text-anchor="start" font-weight="bold" fill="#111" textLength="34" lengthAdjust="spacingAndGlyphs" >Duvelisib</text>
<rect x="55.7" y="266.8" width="33.7" height="8.8" fill="#dfdfdf" stroke="#6c6c6c" stroke-width="0.9" filter="url(#bs)"/>
<rect x="56.8" y="267.9" width="31.4" height="6.5" fill="#e9e9e9" filter="url(#bl)"/>
<rect x="56.20" y="267.30" width="17.99" height="7.70" rx="1.5" fill="#000" opacity="0.85" filter="url(#bl)"/>
<rect x="56.76" y="267.55" width="14.88" height="7.20" rx="3.40" ry="3.40" fill="#000" opacity="1.00" filter="url(#bl)"/>
<rect x="74.40" y="269.65" width="14.19" height="3.00" rx="1.72" ry="1.50" fill="#000" opacity="0.90" filter="url(#bl)"/>
<rect x="100.9" y="266.8" width="33.7" height="8.8" fill="#dfdfdf" stroke="#6c6c6c" stroke-width="0.9" filter="url(#bs)"/>
<rect x="102.0" y="267.9" width="31.4" height="6.5" fill="#e9e9e9" filter="url(#bl)"/>
<rect x="102.30" y="269.90" width="14.19" height="2.50" rx="1.44" ry="1.25" fill="#000" opacity="0.35" filter="url(#bl)"/>
<rect x="119.60" y="269.90" width="14.19" height="2.50" rx="1.44" ry="1.25" fill="#000" opacity="0.35" filter="url(#bl)"/>
<rect x="144.6" y="266.8" width="34.3" height="8.8" fill="#dfdfdf" stroke="#6c6c6c" stroke-width="0.9" filter="url(#bs)"/>
<rect x="145.8" y="267.9" width="32.0" height="6.5" fill="#e9e9e9" filter="url(#bl)"/>
<rect x="146.14" y="269.90" width="14.43" height="2.50" rx="1.44" ry="1.25" fill="#000" opacity="0.60" filter="url(#bl)"/>
<rect x="163.74" y="269.85" width="14.43" height="2.60" rx="1.49" ry="1.30" fill="#000" opacity="0.88" filter="url(#bl)"/>
<text x="196.5" y="273.65" font-size="8.6" text-anchor="start" font-weight="normal" fill="#1e1e1e" textLength="21.4" lengthAdjust="spacingAndGlyphs" >p110γ</text>
<rect x="55.7" y="280.8" width="33.7" height="6.2" fill="#dfdfdf" stroke="#6c6c6c" stroke-width="0.9" filter="url(#bs)"/>
<rect x="56.8" y="282.0" width="31.4" height="3.9" fill="#e9e9e9" filter="url(#bl)"/>
<rect x="57.10" y="282.70" width="14.19" height="2.50" rx="1.44" ry="1.25" fill="#000" opacity="0.35" filter="url(#bl)"/>
<rect x="74.40" y="282.45" width="14.19" height="3.00" rx="1.72" ry="1.50" fill="#000" opacity="0.55" filter="url(#bl)"/>
<rect x="100.9" y="280.8" width="33.7" height="6.2" fill="#dfdfdf" stroke="#6c6c6c" stroke-width="0.9" filter="url(#bs)"/>
<rect x="102.0" y="282.0" width="31.4" height="3.9" fill="#e9e9e9" filter="url(#bl)"/>
<rect x="102.30" y="281.95" width="14.19" height="4.00" rx="2.30" ry="2.00" fill="#000" opacity="1.00" filter="url(#bl)"/>
<rect x="119.60" y="281.95" width="14.19" height="4.00" rx="2.30" ry="2.00" fill="#000" opacity="1.00" filter="url(#bl)"/>
<rect x="144.6" y="280.8" width="34.3" height="6.2" fill="#dfdfdf" stroke="#6c6c6c" stroke-width="0.9" filter="url(#bs)"/>
<rect x="145.8" y="282.0" width="32.0" height="3.9" fill="#e9e9e9" filter="url(#bl)"/>
<rect x="146.14" y="282.20" width="14.43" height="3.50" rx="2.01" ry="1.75" fill="#000" opacity="0.95" filter="url(#bl)"/>
<rect x="163.74" y="282.20" width="14.43" height="3.50" rx="2.01" ry="1.75" fill="#000" opacity="0.95" filter="url(#bl)"/>
<text x="196.5" y="286.45" font-size="8.6" text-anchor="start" font-weight="normal" fill="#1e1e1e" textLength="22.0" lengthAdjust="spacingAndGlyphs" >p110δ</text>
<rect x="55.7" y="293.9" width="33.7" height="9.3" fill="#dfdfdf" stroke="#6c6c6c" stroke-width="0.9" filter="url(#bs)"/>
<rect x="56.8" y="295.1" width="31.4" height="7.0" fill="#e9e9e9" filter="url(#bl)"/>
<rect x="56.76" y="294.60" width="14.88" height="8.00" rx="3.40" ry="3.40" fill="#000" opacity="1.00" filter="url(#bl)"/>
<rect x="74.06" y="294.60" width="14.88" height="8.00" rx="3.40" ry="3.40" fill="#000" opacity="1.00" filter="url(#bl)"/>
<rect x="100.9" y="293.9" width="33.7" height="9.3" fill="#dfdfdf" stroke="#6c6c6c" stroke-width="0.9" filter="url(#bs)"/>
<rect x="102.0" y="295.1" width="31.4" height="7.0" fill="#e9e9e9" filter="url(#bl)"/>
<rect x="102.30" y="296.60" width="14.19" height="4.00" rx="2.30" ry="2.00" fill="#000" opacity="0.65" filter="url(#bl)"/>
<rect x="119.60" y="296.60" width="14.19" height="4.00" rx="2.30" ry="2.00" fill="#000" opacity="0.40" filter="url(#bl)"/>
<rect x="144.6" y="293.9" width="34.3" height="9.3" fill="#dfdfdf" stroke="#6c6c6c" stroke-width="0.9" filter="url(#bs)"/>
<rect x="145.8" y="295.1" width="32.0" height="7.0" fill="#e9e9e9" filter="url(#bl)"/>
<rect x="146.14" y="296.35" width="14.43" height="4.50" rx="2.59" ry="2.25" fill="#000" opacity="0.70" filter="url(#bl)"/>
<rect x="163.74" y="296.60" width="14.43" height="4.00" rx="2.30" ry="2.00" fill="#000" opacity="0.60" filter="url(#bl)"/>
<text x="196.5" y="301.1" font-size="8.6" text-anchor="start" font-weight="normal" fill="#1e1e1e" textLength="22.7" lengthAdjust="spacingAndGlyphs" >p110α</text>
<rect x="55.7" y="307.8" width="33.7" height="9.7" fill="#dfdfdf" stroke="#6c6c6c" stroke-width="0.9" filter="url(#bs)"/>
<rect x="56.8" y="308.9" width="31.4" height="7.4" fill="#e9e9e9" filter="url(#bl)"/>
<rect x="57.10" y="311.10" width="14.19" height="3.00" rx="1.72" ry="1.50" fill="#000" opacity="0.45" filter="url(#bl)"/>
<rect x="100.9" y="307.8" width="33.7" height="9.7" fill="#dfdfdf" stroke="#6c6c6c" stroke-width="0.9" filter="url(#bs)"/>
<rect x="102.0" y="308.9" width="31.4" height="7.4" fill="#e9e9e9" filter="url(#bl)"/>
<rect x="102.30" y="310.60" width="14.19" height="4.00" rx="2.30" ry="2.00" fill="#000" opacity="0.85" filter="url(#bl)"/>
<rect x="119.60" y="311.10" width="14.19" height="3.00" rx="1.72" ry="1.50" fill="#000" opacity="0.10" filter="url(#bl)"/>
<rect x="144.6" y="307.8" width="34.3" height="9.7" fill="#dfdfdf" stroke="#6c6c6c" stroke-width="0.9" filter="url(#bs)"/>
<rect x="145.8" y="308.9" width="32.0" height="7.4" fill="#e9e9e9" filter="url(#bl)"/>
<rect x="146.14" y="310.60" width="14.43" height="4.00" rx="2.30" ry="2.00" fill="#000" opacity="1.00" filter="url(#bl)"/>
<text x="196.5" y="315.1" font-size="8.6" text-anchor="start" font-weight="normal" fill="#1e1e1e" textLength="39.6" lengthAdjust="spacingAndGlyphs" >p-Akt S473</text>
<rect x="55.7" y="321.2" width="33.7" height="8.1" fill="#dfdfdf" stroke="#6c6c6c" stroke-width="0.9" filter="url(#bs)"/>
<rect x="56.8" y="322.4" width="31.4" height="5.8" fill="#e9e9e9" filter="url(#bl)"/>
<rect x="57.10" y="322.80" width="14.19" height="5.00" rx="2.88" ry="2.50" fill="#000" opacity="1.00" filter="url(#bl)"/>
<rect x="74.40" y="323.05" width="14.19" height="4.50" rx="2.59" ry="2.25" fill="#000" opacity="0.85" filter="url(#bl)"/>
<rect x="100.9" y="321.2" width="33.7" height="8.1" fill="#dfdfdf" stroke="#6c6c6c" stroke-width="0.9" filter="url(#bs)"/>
<rect x="102.0" y="322.4" width="31.4" height="5.8" fill="#e9e9e9" filter="url(#bl)"/>
<rect x="102.30" y="322.80" width="14.19" height="5.00" rx="2.88" ry="2.50" fill="#000" opacity="1.00" filter="url(#bl)"/>
<rect x="119.60" y="322.55" width="14.19" height="5.50" rx="3.16" ry="2.75" fill="#000" opacity="1.00" filter="url(#bl)"/>
<rect x="144.6" y="321.2" width="34.3" height="8.1" fill="#dfdfdf" stroke="#6c6c6c" stroke-width="0.9" filter="url(#bs)"/>
<rect x="145.8" y="322.4" width="32.0" height="5.8" fill="#e9e9e9" filter="url(#bl)"/>
<rect x="146.14" y="323.05" width="14.43" height="4.50" rx="2.59" ry="2.25" fill="#000" opacity="0.90" filter="url(#bl)"/>
<rect x="163.74" y="322.80" width="14.43" height="5.00" rx="2.88" ry="2.50" fill="#000" opacity="0.90" filter="url(#bl)"/>
<text x="196.5" y="327.8" font-size="8.6" text-anchor="start" font-weight="normal" fill="#1e1e1e" textLength="12.0" lengthAdjust="spacingAndGlyphs" >Akt</text>
<rect x="55.7" y="333.1" width="33.7" height="9.3" fill="#dfdfdf" stroke="#6c6c6c" stroke-width="0.9" filter="url(#bs)"/>
<rect x="56.8" y="334.3" width="31.4" height="7.0" fill="#e9e9e9" filter="url(#bl)"/>
<rect x="57.10" y="336.30" width="14.19" height="3.00" rx="1.72" ry="1.50" fill="#000" opacity="0.40" filter="url(#bl)"/>
<rect x="74.40" y="336.05" width="14.19" height="3.50" rx="2.01" ry="1.75" fill="#000" opacity="0.90" filter="url(#bl)"/>
<rect x="100.9" y="333.1" width="33.7" height="9.3" fill="#dfdfdf" stroke="#6c6c6c" stroke-width="0.9" filter="url(#bs)"/>
<rect x="102.0" y="334.3" width="31.4" height="7.0" fill="#e9e9e9" filter="url(#bl)"/>
<rect x="102.30" y="336.30" width="14.19" height="3.00" rx="1.72" ry="1.50" fill="#000" opacity="0.20" filter="url(#bl)"/>
<rect x="119.60" y="335.80" width="14.19" height="4.00" rx="2.30" ry="2.00" fill="#000" opacity="0.85" filter="url(#bl)"/>
<rect x="144.6" y="333.1" width="34.3" height="9.3" fill="#dfdfdf" stroke="#6c6c6c" stroke-width="0.9" filter="url(#bs)"/>
<rect x="145.8" y="334.3" width="32.0" height="7.0" fill="#e9e9e9" filter="url(#bl)"/>
<rect x="146.14" y="336.30" width="14.43" height="3.00" rx="1.72" ry="1.50" fill="#000" opacity="0.08" filter="url(#bl)"/>
<rect x="163.74" y="336.30" width="14.43" height="3.00" rx="1.72" ry="1.50" fill="#000" opacity="0.12" filter="url(#bl)"/>
<text x="196.5" y="340.29999999999995" font-size="8.6" text-anchor="start" font-weight="normal" fill="#1e1e1e" textLength="71.6" lengthAdjust="spacingAndGlyphs" >p-MEK1/2 S217/221</text>
<rect x="55.7" y="349.1" width="33.7" height="8.7" fill="#dfdfdf" stroke="#6c6c6c" stroke-width="0.9" filter="url(#bs)"/>
<rect x="56.8" y="350.3" width="31.4" height="6.4" fill="#e9e9e9" filter="url(#bl)"/>
<rect x="57.10" y="351.25" width="14.19" height="4.50" rx="2.59" ry="2.25" fill="#000" opacity="0.90" filter="url(#bl)"/>
<rect x="74.40" y="350.75" width="14.19" height="5.50" rx="3.16" ry="2.75" fill="#000" opacity="1.00" filter="url(#bl)"/>
<rect x="100.9" y="349.1" width="33.7" height="8.7" fill="#dfdfdf" stroke="#6c6c6c" stroke-width="0.9" filter="url(#bs)"/>
<rect x="102.0" y="350.3" width="31.4" height="6.4" fill="#e9e9e9" filter="url(#bl)"/>
<rect x="102.30" y="351.50" width="14.19" height="4.00" rx="2.30" ry="2.00" fill="#000" opacity="0.80" filter="url(#bl)"/>
<rect x="119.60" y="351.50" width="14.19" height="4.00" rx="2.30" ry="2.00" fill="#000" opacity="0.80" filter="url(#bl)"/>
<rect x="144.6" y="349.1" width="34.3" height="8.7" fill="#dfdfdf" stroke="#6c6c6c" stroke-width="0.9" filter="url(#bs)"/>
<rect x="145.8" y="350.3" width="32.0" height="6.4" fill="#e9e9e9" filter="url(#bl)"/>
<rect x="146.14" y="351.50" width="14.43" height="4.00" rx="2.30" ry="2.00" fill="#000" opacity="0.80" filter="url(#bl)"/>
<rect x="163.74" y="351.50" width="14.43" height="4.00" rx="2.30" ry="2.00" fill="#000" opacity="0.80" filter="url(#bl)"/>
<text x="196.5" y="356.0" font-size="8.6" text-anchor="start" font-weight="normal" fill="#1e1e1e" textLength="29.0" lengthAdjust="spacingAndGlyphs" >MEK1/2</text>
<rect x="55.7" y="364.1" width="33.7" height="9.1" fill="#dfdfdf" stroke="#6c6c6c" stroke-width="0.9" filter="url(#bs)"/>
<rect x="56.8" y="365.3" width="31.4" height="6.8" fill="#e9e9e9" filter="url(#bl)"/>
<rect x="57.10" y="367.45" width="14.19" height="2.50" rx="1.44" ry="1.25" fill="#000" opacity="0.45" filter="url(#bl)"/>
<rect x="74.40" y="367.20" width="14.19" height="3.00" rx="1.72" ry="1.50" fill="#000" opacity="0.85" filter="url(#bl)"/>
<rect x="100.9" y="364.1" width="33.7" height="9.1" fill="#dfdfdf" stroke="#6c6c6c" stroke-width="0.9" filter="url(#bs)"/>
<rect x="102.0" y="365.3" width="31.4" height="6.8" fill="#e9e9e9" filter="url(#bl)"/>
<rect x="102.30" y="367.20" width="14.19" height="3.00" rx="1.72" ry="1.50" fill="#000" opacity="0.95" filter="url(#bl)"/>
<rect x="119.26" y="365.95" width="14.88" height="5.50" rx="3.16" ry="2.75" fill="#000" opacity="1.00" filter="url(#bl)"/>
<rect x="144.6" y="364.1" width="34.3" height="9.1" fill="#dfdfdf" stroke="#6c6c6c" stroke-width="0.9" filter="url(#bs)"/>
<rect x="145.8" y="365.3" width="32.0" height="6.8" fill="#e9e9e9" filter="url(#bl)"/>
<rect x="146.14" y="367.20" width="14.43" height="3.00" rx="1.72" ry="1.50" fill="#000" opacity="0.12" filter="url(#bl)"/>
<rect x="163.74" y="367.20" width="14.43" height="3.00" rx="1.72" ry="1.50" fill="#000" opacity="0.60" filter="url(#bl)"/>
<text x="196.5" y="371.2" font-size="8.6" text-anchor="start" font-weight="normal" fill="#1e1e1e" textLength="74.5" lengthAdjust="spacingAndGlyphs" >p-ERK1/2 T202/Y204</text>
<rect x="55.7" y="378.1" width="33.7" height="8.7" fill="#dfdfdf" stroke="#6c6c6c" stroke-width="0.9" filter="url(#bs)"/>
<rect x="56.8" y="379.3" width="31.4" height="6.4" fill="#e9e9e9" filter="url(#bl)"/>
<rect x="57.10" y="380.25" width="14.19" height="4.50" rx="2.59" ry="2.25" fill="#000" opacity="0.95" filter="url(#bl)"/>
<rect x="74.40" y="380.25" width="14.19" height="4.50" rx="2.59" ry="2.25" fill="#000" opacity="0.95" filter="url(#bl)"/>
<rect x="100.9" y="378.1" width="33.7" height="8.7" fill="#dfdfdf" stroke="#6c6c6c" stroke-width="0.9" filter="url(#bs)"/>
<rect x="102.0" y="379.3" width="31.4" height="6.4" fill="#e9e9e9" filter="url(#bl)"/>
<rect x="102.30" y="380.75" width="14.19" height="3.50" rx="2.01" ry="1.75" fill="#000" opacity="0.85" filter="url(#bl)"/>
<rect x="119.60" y="380.75" width="14.19" height="3.50" rx="2.01" ry="1.75" fill="#000" opacity="0.85" filter="url(#bl)"/>
<rect x="144.6" y="378.1" width="34.3" height="8.7" fill="#dfdfdf" stroke="#6c6c6c" stroke-width="0.9" filter="url(#bs)"/>
<rect x="145.8" y="379.3" width="32.0" height="6.4" fill="#e9e9e9" filter="url(#bl)"/>
<rect x="146.14" y="380.50" width="14.43" height="4.00" rx="2.30" ry="2.00" fill="#000" opacity="0.90" filter="url(#bl)"/>
<rect x="163.74" y="380.50" width="14.43" height="4.00" rx="2.30" ry="2.00" fill="#000" opacity="0.90" filter="url(#bl)"/>
<text x="196.5" y="385.0" font-size="8.6" text-anchor="start" font-weight="normal" fill="#1e1e1e" textLength="26.8" lengthAdjust="spacingAndGlyphs" >ERK1/2</text>
<rect x="55.7" y="393.4" width="33.7" height="8.6" fill="#dfdfdf" stroke="#6c6c6c" stroke-width="0.9" filter="url(#bs)"/>
<rect x="56.8" y="394.6" width="31.4" height="6.3" fill="#e9e9e9" filter="url(#bl)"/>
<rect x="57.10" y="396.25" width="14.19" height="3.00" rx="1.72" ry="1.50" fill="#000" opacity="0.90" filter="url(#bl)"/>
<rect x="74.40" y="396.25" width="14.19" height="3.00" rx="1.72" ry="1.50" fill="#000" opacity="0.85" filter="url(#bl)"/>
<rect x="100.9" y="393.4" width="33.7" height="8.6" fill="#dfdfdf" stroke="#6c6c6c" stroke-width="0.9" filter="url(#bs)"/>
<rect x="102.0" y="394.6" width="31.4" height="6.3" fill="#e9e9e9" filter="url(#bl)"/>
<rect x="102.30" y="395.25" width="14.19" height="5.00" rx="2.88" ry="2.50" fill="#000" opacity="1.00" filter="url(#bl)"/>
<rect x="119.60" y="396.50" width="14.19" height="2.50" rx="1.44" ry="1.25" fill="#000" opacity="0.40" filter="url(#bl)"/>
<rect x="144.6" y="393.4" width="34.3" height="8.6" fill="#dfdfdf" stroke="#6c6c6c" stroke-width="0.9" filter="url(#bs)"/>
<rect x="145.8" y="394.6" width="32.0" height="6.3" fill="#e9e9e9" filter="url(#bl)"/>
<rect x="146.14" y="396.50" width="14.43" height="2.50" rx="1.44" ry="1.25" fill="#000" opacity="0.45" filter="url(#bl)"/>
<rect x="163.74" y="396.50" width="14.43" height="2.50" rx="1.44" ry="1.25" fill="#000" opacity="0.45" filter="url(#bl)"/>
<text x="196.5" y="400.25" font-size="8.6" text-anchor="start" font-weight="normal" fill="#1e1e1e" textLength="53.4" lengthAdjust="spacingAndGlyphs" >p-S6 S235/236</text>
<rect x="55.7" y="406.1" width="33.7" height="9.1" fill="#dfdfdf" stroke="#6c6c6c" stroke-width="0.9" filter="url(#bs)"/>
<rect x="56.8" y="407.2" width="31.4" height="6.8" fill="#e9e9e9" filter="url(#bl)"/>
<rect x="57.10" y="408.10" width="14.19" height="5.00" rx="2.88" ry="2.50" fill="#000" opacity="0.90" filter="url(#bl)"/>
<rect x="74.40" y="408.35" width="14.19" height="4.50" rx="2.59" ry="2.25" fill="#000" opacity="0.85" filter="url(#bl)"/>
<rect x="100.9" y="406.1" width="33.7" height="9.1" fill="#dfdfdf" stroke="#6c6c6c" stroke-width="0.9" filter="url(#bs)"/>
<rect x="102.0" y="407.2" width="31.4" height="6.8" fill="#e9e9e9" filter="url(#bl)"/>
<rect x="102.30" y="408.60" width="14.19" height="4.00" rx="2.30" ry="2.00" fill="#000" opacity="0.80" filter="url(#bl)"/>
<rect x="119.60" y="408.35" width="14.19" height="4.50" rx="2.59" ry="2.25" fill="#000" opacity="0.90" filter="url(#bl)"/>
<rect x="144.6" y="406.1" width="34.3" height="9.1" fill="#dfdfdf" stroke="#6c6c6c" stroke-width="0.9" filter="url(#bs)"/>
<rect x="145.8" y="407.2" width="32.0" height="6.8" fill="#e9e9e9" filter="url(#bl)"/>
<rect x="145.78" y="407.10" width="15.14" height="7.00" rx="3.40" ry="3.40" fill="#000" opacity="1.00" filter="url(#bl)"/>
<rect x="163.38" y="407.10" width="15.14" height="7.00" rx="3.40" ry="3.40" fill="#000" opacity="1.00" filter="url(#bl)"/>
<text x="196.5" y="413.1" font-size="8.6" text-anchor="start" font-weight="normal" fill="#1e1e1e" textLength="8.9" lengthAdjust="spacingAndGlyphs" >S6</text>
<rect x="55.7" y="421.6" width="33.7" height="8.7" fill="#dfdfdf" stroke="#6c6c6c" stroke-width="0.9" filter="url(#bs)"/>
<rect x="56.8" y="422.8" width="31.4" height="6.4" fill="#e9e9e9" filter="url(#bl)"/>
<rect x="57.10" y="423.48" width="14.19" height="3.50" rx="2.01" ry="1.75" fill="#000" opacity="0.90" filter="url(#bl)"/>
<rect x="74.40" y="425.21" width="14.19" height="3.50" rx="2.01" ry="1.75" fill="#000" opacity="0.85" filter="url(#bl)"/>
<rect x="100.9" y="421.6" width="33.7" height="8.7" fill="#dfdfdf" stroke="#6c6c6c" stroke-width="0.9" filter="url(#bs)"/>
<rect x="102.0" y="422.8" width="31.4" height="6.4" fill="#e9e9e9" filter="url(#bl)"/>
<rect x="102.30" y="423.50" width="14.19" height="5.00" rx="2.88" ry="2.50" fill="#000" opacity="1.00" filter="url(#bl)"/>
<rect x="119.60" y="423.50" width="14.19" height="5.00" rx="2.88" ry="2.50" fill="#000" opacity="1.00" filter="url(#bl)"/>
<rect x="144.6" y="421.6" width="34.3" height="8.7" fill="#dfdfdf" stroke="#6c6c6c" stroke-width="0.9" filter="url(#bs)"/>
<rect x="145.8" y="422.8" width="32.0" height="6.4" fill="#e9e9e9" filter="url(#bl)"/>
<rect x="146.14" y="424.25" width="14.43" height="3.50" rx="2.01" ry="1.75" fill="#000" opacity="0.85" filter="url(#bl)"/>
<rect x="163.74" y="424.00" width="14.43" height="4.00" rx="2.30" ry="2.00" fill="#000" opacity="0.90" filter="url(#bl)"/>
<text x="196.5" y="428.5" font-size="8.6" text-anchor="start" font-weight="normal" fill="#1e1e1e" textLength="93.4" lengthAdjust="spacingAndGlyphs" >p-mTOR S2448 (mTORC1)</text>
<rect x="55.7" y="436.9" width="33.7" height="8.8" fill="#dfdfdf" stroke="#6c6c6c" stroke-width="0.9" filter="url(#bs)"/>
<rect x="56.8" y="438.1" width="31.4" height="6.5" fill="#e9e9e9" filter="url(#bl)"/>
<rect x="57.10" y="440.57" width="14.19" height="3.50" rx="2.01" ry="1.75" fill="#000" opacity="0.90" filter="url(#bl)"/>
<rect x="74.40" y="438.57" width="14.19" height="4.00" rx="2.30" ry="2.00" fill="#000" opacity="0.95" filter="url(#bl)"/>
<rect x="100.9" y="436.9" width="33.7" height="8.8" fill="#dfdfdf" stroke="#6c6c6c" stroke-width="0.9" filter="url(#bs)"/>
<rect x="102.0" y="438.1" width="31.4" height="6.5" fill="#e9e9e9" filter="url(#bl)"/>
<rect x="102.30" y="439.35" width="14.19" height="4.00" rx="2.30" ry="2.00" fill="#000" opacity="0.90" filter="url(#bl)"/>
<rect x="119.60" y="438.60" width="14.19" height="5.50" rx="3.16" ry="2.75" fill="#000" opacity="1.00" filter="url(#bl)"/>
<rect x="144.6" y="436.9" width="34.3" height="8.8" fill="#dfdfdf" stroke="#6c6c6c" stroke-width="0.9" filter="url(#bs)"/>
<rect x="145.8" y="438.1" width="32.0" height="6.5" fill="#e9e9e9" filter="url(#bl)"/>
<rect x="146.14" y="439.60" width="14.43" height="3.50" rx="2.01" ry="1.75" fill="#000" opacity="0.90" filter="url(#bl)"/>
<rect x="163.74" y="439.35" width="14.43" height="4.00" rx="2.30" ry="2.00" fill="#000" opacity="0.90" filter="url(#bl)"/>
<text x="196.5" y="443.85" font-size="8.6" text-anchor="start" font-weight="normal" fill="#1e1e1e" textLength="93.4" lengthAdjust="spacingAndGlyphs" >p-mTOR S2481 (mTORC2)</text>
<rect x="55.7" y="451.1" width="33.7" height="9.1" fill="#dfdfdf" stroke="#6c6c6c" stroke-width="0.9" filter="url(#bs)"/>
<rect x="56.8" y="452.2" width="31.4" height="6.8" fill="#e9e9e9" filter="url(#bl)"/>
<rect x="57.10" y="452.60" width="14.19" height="6.00" rx="3.40" ry="3.00" fill="#000" opacity="0.50" filter="url(#bl)"/>
<rect x="74.40" y="452.60" width="14.19" height="6.00" rx="3.40" ry="3.00" fill="#000" opacity="0.50" filter="url(#bl)"/>
<rect x="100.9" y="451.1" width="33.7" height="9.1" fill="#dfdfdf" stroke="#6c6c6c" stroke-width="0.9" filter="url(#bs)"/>
<rect x="102.0" y="452.2" width="31.4" height="6.8" fill="#e9e9e9" filter="url(#bl)"/>
<rect x="102.30" y="452.60" width="14.19" height="6.00" rx="3.40" ry="3.00" fill="#000" opacity="0.62" filter="url(#bl)"/>
<rect x="119.60" y="452.60" width="14.19" height="6.00" rx="3.40" ry="3.00" fill="#000" opacity="0.65" filter="url(#bl)"/>
<rect x="144.6" y="451.1" width="34.3" height="9.1" fill="#dfdfdf" stroke="#6c6c6c" stroke-width="0.9" filter="url(#bs)"/>
<rect x="145.8" y="452.2" width="32.0" height="6.8" fill="#e9e9e9" filter="url(#bl)"/>
<rect x="146.14" y="452.35" width="14.43" height="6.50" rx="3.40" ry="3.25" fill="#000" opacity="0.80" filter="url(#bl)"/>
<rect x="163.74" y="452.35" width="14.43" height="6.50" rx="3.40" ry="3.25" fill="#000" opacity="0.82" filter="url(#bl)"/>
<text x="196.5" y="458.1" font-size="8.6" text-anchor="start" font-weight="normal" fill="#1e1e1e" textLength="23.2" lengthAdjust="spacingAndGlyphs" >mTOR</text>
<rect x="55.7" y="465.1" width="33.7" height="8.7" fill="#dfdfdf" stroke="#6c6c6c" stroke-width="0.9" filter="url(#bs)"/>
<rect x="56.8" y="466.2" width="31.4" height="6.4" fill="#e9e9e9" filter="url(#bl)"/>
<rect x="57.10" y="467.65" width="14.19" height="3.50" rx="2.01" ry="1.75" fill="#000" opacity="1.00" filter="url(#bl)"/>
<rect x="74.40" y="467.65" width="14.19" height="3.50" rx="2.01" ry="1.75" fill="#000" opacity="1.00" filter="url(#bl)"/>
<rect x="100.9" y="465.1" width="33.7" height="8.7" fill="#dfdfdf" stroke="#6c6c6c" stroke-width="0.9" filter="url(#bs)"/>
<rect x="102.0" y="466.2" width="31.4" height="6.4" fill="#e9e9e9" filter="url(#bl)"/>
<rect x="102.30" y="467.65" width="14.19" height="3.50" rx="2.01" ry="1.75" fill="#000" opacity="1.00" filter="url(#bl)"/>
<rect x="119.60" y="467.65" width="14.19" height="3.50" rx="2.01" ry="1.75" fill="#000" opacity="1.00" filter="url(#bl)"/>
<rect x="144.6" y="465.1" width="34.3" height="8.7" fill="#dfdfdf" stroke="#6c6c6c" stroke-width="0.9" filter="url(#bs)"/>
<rect x="145.8" y="466.2" width="32.0" height="6.4" fill="#e9e9e9" filter="url(#bl)"/>
<rect x="146.14" y="468.00" width="14.43" height="2.80" rx="1.61" ry="1.40" fill="#000" opacity="0.90" filter="url(#bl)"/>
<rect x="163.74" y="468.00" width="14.43" height="2.80" rx="1.61" ry="1.40" fill="#000" opacity="0.90" filter="url(#bl)"/>
<text x="196.5" y="471.9" font-size="8.6" text-anchor="start" font-weight="normal" fill="#1e1e1e" textLength="24.0" lengthAdjust="spacingAndGlyphs" >β-actin</text>
<rect x="55.7" y="478.4" width="33.7" height="8.8" fill="#dfdfdf" stroke="#6c6c6c" stroke-width="0.9" filter="url(#bs)"/>
<rect x="56.8" y="479.6" width="31.4" height="6.5" fill="#e9e9e9" filter="url(#bl)"/>
<rect x="57.10" y="481.35" width="14.19" height="3.00" rx="1.72" ry="1.50" fill="#000" opacity="0.85" filter="url(#bl)"/>
<rect x="74.40" y="480.85" width="14.19" height="4.00" rx="2.30" ry="2.00" fill="#000" opacity="1.00" filter="url(#bl)"/>
<rect x="100.9" y="478.4" width="33.7" height="8.8" fill="#dfdfdf" stroke="#6c6c6c" stroke-width="0.9" filter="url(#bs)"/>
<rect x="102.0" y="479.6" width="31.4" height="6.5" fill="#e9e9e9" filter="url(#bl)"/>
<rect x="102.30" y="481.10" width="14.19" height="3.50" rx="2.01" ry="1.75" fill="#000" opacity="0.90" filter="url(#bl)"/>
<rect x="119.60" y="481.10" width="14.19" height="3.50" rx="2.01" ry="1.75" fill="#000" opacity="0.90" filter="url(#bl)"/>
<rect x="144.6" y="478.4" width="34.3" height="8.8" fill="#dfdfdf" stroke="#6c6c6c" stroke-width="0.9" filter="url(#bs)"/>
<rect x="145.8" y="479.6" width="32.0" height="6.5" fill="#e9e9e9" filter="url(#bl)"/>
<rect x="146.14" y="481.10" width="14.43" height="3.50" rx="2.01" ry="1.75" fill="#000" opacity="0.95" filter="url(#bl)"/>
<rect x="163.74" y="481.10" width="14.43" height="3.50" rx="2.01" ry="1.75" fill="#000" opacity="0.95" filter="url(#bl)"/>
<text x="196.5" y="485.35" font-size="8.6" text-anchor="start" font-weight="normal" fill="#1e1e1e" textLength="28.2" lengthAdjust="spacingAndGlyphs" >GAPDH</text>
<text x="307.0" y="353.4" font-size="15.3" text-anchor="start" font-weight="bold" fill="#000" stroke="#000" stroke-width="0.3">D</text>
<text x="336.2" y="344.9" font-size="8.2" text-anchor="start" font-weight="bold" fill="#111" textLength="21.900000000000034" lengthAdjust="spacingAndGlyphs" >Day 3</text>
<text x="381.8" y="344.9" font-size="8.2" text-anchor="start" font-weight="bold" fill="#111" textLength="21.19999999999999" lengthAdjust="spacingAndGlyphs" >Day 9</text>
<text x="423.8" y="344.9" font-size="8.2" text-anchor="start" font-weight="bold" fill="#111" textLength="26.0" lengthAdjust="spacingAndGlyphs" >Day 15</text>
<line x1="334.7" y1="352.2" x2="338.90000000000003" y2="352.2" stroke="#111" stroke-width="1.3" />
<line x1="353.5" y1="351.9" x2="358.1" y2="351.9" stroke="#111" stroke-width="1.2" />
<line x1="355.8" y1="349.8" x2="355.8" y2="354.0" stroke="#111" stroke-width="1.2" />
<line x1="379.9" y1="352.2" x2="384.1" y2="352.2" stroke="#111" stroke-width="1.3" />
<line x1="399.2" y1="351.9" x2="403.8" y2="351.9" stroke="#111" stroke-width="1.2" />
<line x1="401.5" y1="349.8" x2="401.5" y2="354.0" stroke="#111" stroke-width="1.2" />
<line x1="425.9" y1="352.2" x2="430.1" y2="352.2" stroke="#111" stroke-width="1.3" />
<line x1="444.7" y1="351.9" x2="449.3" y2="351.9" stroke="#111" stroke-width="1.2" />
<line x1="447" y1="349.8" x2="447" y2="354.0" stroke="#111" stroke-width="1.2" />
<text x="466" y="355" font-size="8" text-anchor="start" font-weight="bold" fill="#111" textLength="34" lengthAdjust="spacingAndGlyphs" >Duvelisib</text>
<rect x="331.4" y="356.9" width="33.9" height="9.5" fill="#dfdfdf" stroke="#6c6c6c" stroke-width="0.9" filter="url(#bs)"/>
<rect x="332.6" y="358.1" width="31.6" height="7.2" fill="#e9e9e9" filter="url(#bl)"/>
<rect x="332.91" y="360.20" width="14.27" height="3.00" rx="1.72" ry="1.50" fill="#000" opacity="0.35" filter="url(#bl)"/>
<rect x="350.31" y="359.20" width="14.27" height="5.00" rx="2.88" ry="2.50" fill="#000" opacity="0.90" filter="url(#bl)"/>
<rect x="377.1" y="356.9" width="34.0" height="9.5" fill="#dfdfdf" stroke="#6c6c6c" stroke-width="0.9" filter="url(#bs)"/>
<rect x="378.3" y="358.1" width="31.7" height="7.2" fill="#e9e9e9" filter="url(#bl)"/>
<rect x="378.62" y="359.20" width="14.31" height="5.00" rx="2.88" ry="2.50" fill="#000" opacity="0.95" filter="url(#bl)"/>
<rect x="396.07" y="359.95" width="14.31" height="3.50" rx="2.01" ry="1.75" fill="#000" opacity="0.45" filter="url(#bl)"/>
<rect x="420.6" y="356.9" width="34.2" height="9.5" fill="#dfdfdf" stroke="#6c6c6c" stroke-width="0.9" filter="url(#bs)"/>
<rect x="421.8" y="358.1" width="31.9" height="7.2" fill="#e9e9e9" filter="url(#bl)"/>
<rect x="422.13" y="359.95" width="14.39" height="3.50" rx="2.01" ry="1.75" fill="#000" opacity="0.55" filter="url(#bl)"/>
<rect x="439.68" y="358.70" width="14.39" height="6.00" rx="3.40" ry="3.00" fill="#000" opacity="1.00" filter="url(#bl)"/>
<text x="473" y="363.55" font-size="8.6" text-anchor="start" font-weight="normal" fill="#1e1e1e" textLength="19.4" lengthAdjust="spacingAndGlyphs" >SIRT1</text>
<rect x="331.4" y="370.8" width="33.9" height="8.3" fill="#dfdfdf" stroke="#6c6c6c" stroke-width="0.9" filter="url(#bs)"/>
<rect x="332.6" y="372.0" width="31.6" height="6.0" fill="#e9e9e9" filter="url(#bl)"/>
<rect x="332.91" y="373.25" width="14.27" height="3.50" rx="2.01" ry="1.75" fill="#000" opacity="0.95" filter="url(#bl)"/>
<rect x="350.31" y="373.25" width="14.27" height="3.50" rx="2.01" ry="1.75" fill="#000" opacity="0.95" filter="url(#bl)"/>
<rect x="377.1" y="370.8" width="34.0" height="8.3" fill="#dfdfdf" stroke="#6c6c6c" stroke-width="0.9" filter="url(#bs)"/>
<rect x="378.3" y="372.0" width="31.7" height="6.0" fill="#e9e9e9" filter="url(#bl)"/>
<rect x="378.62" y="373.50" width="14.31" height="3.00" rx="1.72" ry="1.50" fill="#000" opacity="0.70" filter="url(#bl)"/>
<rect x="396.07" y="373.25" width="14.31" height="3.50" rx="2.01" ry="1.75" fill="#000" opacity="0.90" filter="url(#bl)"/>
<rect x="420.6" y="370.8" width="34.2" height="8.3" fill="#dfdfdf" stroke="#6c6c6c" stroke-width="0.9" filter="url(#bs)"/>
<rect x="421.8" y="372.0" width="31.9" height="6.0" fill="#e9e9e9" filter="url(#bl)"/>
<rect x="422.13" y="373.00" width="14.39" height="4.00" rx="2.30" ry="2.00" fill="#000" opacity="0.95" filter="url(#bl)"/>
<rect x="439.68" y="372.50" width="14.39" height="5.00" rx="2.88" ry="2.50" fill="#000" opacity="1.00" filter="url(#bl)"/>
<text x="473" y="377.5" font-size="8.6" text-anchor="start" font-weight="normal" fill="#1e1e1e" textLength="20.2" lengthAdjust="spacingAndGlyphs" >SIRT3</text>
<rect x="331.4" y="383.1" width="33.9" height="8.8" fill="#dfdfdf" stroke="#6c6c6c" stroke-width="0.9" filter="url(#bs)"/>
<rect x="332.6" y="384.2" width="31.6" height="6.5" fill="#e9e9e9" filter="url(#bl)"/>
<rect x="332.91" y="385.20" width="14.27" height="4.50" rx="2.59" ry="2.25" fill="#000" opacity="1.00" filter="url(#bl)"/>
<rect x="350.31" y="385.20" width="14.27" height="4.50" rx="2.59" ry="2.25" fill="#000" opacity="1.00" filter="url(#bl)"/>
<rect x="377.1" y="383.1" width="34.0" height="8.8" fill="#dfdfdf" stroke="#6c6c6c" stroke-width="0.9" filter="url(#bs)"/>
<rect x="378.3" y="384.2" width="31.7" height="6.5" fill="#e9e9e9" filter="url(#bl)"/>
<rect x="378.62" y="386.20" width="14.31" height="2.50" rx="1.44" ry="1.25" fill="#000" opacity="0.40" filter="url(#bl)"/>
<rect x="396.07" y="385.45" width="14.31" height="4.00" rx="2.30" ry="2.00" fill="#000" opacity="0.95" filter="url(#bl)"/>
<rect x="420.6" y="383.1" width="34.2" height="8.8" fill="#dfdfdf" stroke="#6c6c6c" stroke-width="0.9" filter="url(#bs)"/>
<rect x="421.8" y="384.2" width="31.9" height="6.5" fill="#e9e9e9" filter="url(#bl)"/>
<rect x="422.13" y="385.95" width="14.39" height="3.00" rx="1.72" ry="1.50" fill="#000" opacity="0.75" filter="url(#bl)"/>
<rect x="439.68" y="385.70" width="14.39" height="3.50" rx="2.01" ry="1.75" fill="#000" opacity="0.90" filter="url(#bl)"/>
<text x="473" y="389.5" font-size="8.6" text-anchor="start" font-weight="normal" fill="#1e1e1e" textLength="20.2" lengthAdjust="spacingAndGlyphs" >SIRT5</text>
<rect x="331.4" y="396.2" width="33.9" height="9.0" fill="#dfdfdf" stroke="#6c6c6c" stroke-width="0.9" filter="url(#bs)"/>
<rect x="332.6" y="397.4" width="31.6" height="6.7" fill="#e9e9e9" filter="url(#bl)"/>
<rect x="332.91" y="399.00" width="14.27" height="3.50" rx="2.01" ry="1.75" fill="#000" opacity="0.90" filter="url(#bl)"/>
<rect x="350.31" y="398.25" width="14.27" height="5.00" rx="2.88" ry="2.50" fill="#000" opacity="1.00" filter="url(#bl)"/>
<rect x="377.1" y="396.2" width="34.0" height="9.0" fill="#dfdfdf" stroke="#6c6c6c" stroke-width="0.9" filter="url(#bs)"/>
<rect x="378.3" y="397.4" width="31.7" height="6.7" fill="#e9e9e9" filter="url(#bl)"/>
<rect x="378.62" y="399.50" width="14.31" height="2.50" rx="1.44" ry="1.25" fill="#000" opacity="0.55" filter="url(#bl)"/>
<rect x="396.07" y="398.25" width="14.31" height="5.00" rx="2.88" ry="2.50" fill="#000" opacity="1.00" filter="url(#bl)"/>
<rect x="420.6" y="396.2" width="34.2" height="9.0" fill="#dfdfdf" stroke="#6c6c6c" stroke-width="0.9" filter="url(#bs)"/>
<rect x="421.8" y="397.4" width="31.9" height="6.7" fill="#e9e9e9" filter="url(#bl)"/>
<rect x="422.13" y="399.50" width="14.39" height="2.50" rx="1.44" ry="1.25" fill="#000" opacity="0.35" filter="url(#bl)"/>
<rect x="439.68" y="399.25" width="14.39" height="3.00" rx="1.72" ry="1.50" fill="#000" opacity="0.65" filter="url(#bl)"/>
<text x="473" y="403.2" font-size="8.6" text-anchor="start" font-weight="normal" fill="#1e1e1e" textLength="26.5" lengthAdjust="spacingAndGlyphs" >TCF1/7</text>
<rect x="331.4" y="408.2" width="33.9" height="7.8" fill="#dfdfdf" stroke="#6c6c6c" stroke-width="0.9" filter="url(#bs)"/>
<rect x="332.6" y="409.4" width="31.6" height="5.5" fill="#e9e9e9" filter="url(#bl)"/>
<rect x="332.91" y="410.75" width="14.27" height="2.80" rx="1.61" ry="1.40" fill="#000" opacity="0.95" filter="url(#bl)"/>
<rect x="350.31" y="410.75" width="14.27" height="2.80" rx="1.61" ry="1.40" fill="#000" opacity="0.95" filter="url(#bl)"/>
<rect x="377.1" y="408.2" width="34.0" height="7.8" fill="#dfdfdf" stroke="#6c6c6c" stroke-width="0.9" filter="url(#bs)"/>
<rect x="378.3" y="409.4" width="31.7" height="5.5" fill="#e9e9e9" filter="url(#bl)"/>
<rect x="378.62" y="410.55" width="14.31" height="3.20" rx="1.84" ry="1.60" fill="#000" opacity="0.95" filter="url(#bl)"/>
<rect x="396.07" y="410.25" width="14.31" height="3.80" rx="2.18" ry="1.90" fill="#000" opacity="1.00" filter="url(#bl)"/>
<rect x="420.6" y="408.2" width="34.2" height="7.8" fill="#dfdfdf" stroke="#6c6c6c" stroke-width="0.9" filter="url(#bs)"/>
<rect x="421.8" y="409.4" width="31.9" height="5.5" fill="#e9e9e9" filter="url(#bl)"/>
<rect x="422.13" y="410.65" width="14.39" height="3.00" rx="1.72" ry="1.50" fill="#000" opacity="0.90" filter="url(#bl)"/>
<rect x="439.68" y="410.40" width="14.39" height="3.50" rx="2.01" ry="1.75" fill="#000" opacity="1.00" filter="url(#bl)"/>
<text x="473" y="414.2" font-size="8.6" text-anchor="start" font-weight="normal" fill="#1e1e1e" textLength="32.1" lengthAdjust="spacingAndGlyphs" >DNMT3a</text>
<rect x="331.4" y="420.4" width="33.9" height="9.3" fill="#dfdfdf" stroke="#6c6c6c" stroke-width="0.9" filter="url(#bs)"/>
<rect x="332.6" y="421.6" width="31.6" height="7.0" fill="#e9e9e9" filter="url(#bl)"/>
<rect x="332.91" y="422.85" width="14.27" height="4.50" rx="2.59" ry="2.25" fill="#000" opacity="0.90" filter="url(#bl)"/>
<rect x="350.31" y="422.60" width="14.27" height="5.00" rx="2.88" ry="2.50" fill="#000" opacity="0.90" filter="url(#bl)"/>
<rect x="377.1" y="420.4" width="34.0" height="9.3" fill="#dfdfdf" stroke="#6c6c6c" stroke-width="0.9" filter="url(#bs)"/>
<rect x="378.3" y="421.6" width="31.7" height="7.0" fill="#e9e9e9" filter="url(#bl)"/>
<rect x="378.62" y="423.35" width="14.31" height="3.50" rx="2.01" ry="1.75" fill="#000" opacity="0.55" filter="url(#bl)"/>
<rect x="395.72" y="421.85" width="15.01" height="6.50" rx="3.40" ry="3.25" fill="#000" opacity="1.00" filter="url(#bl)"/>
<rect x="420.6" y="420.4" width="34.2" height="9.3" fill="#dfdfdf" stroke="#6c6c6c" stroke-width="0.9" filter="url(#bs)"/>
<rect x="421.8" y="421.6" width="31.9" height="7.0" fill="#e9e9e9" filter="url(#bl)"/>
<rect x="422.13" y="423.60" width="14.39" height="3.00" rx="1.72" ry="1.50" fill="#000" opacity="0.70" filter="url(#bl)"/>
<rect x="439.68" y="422.85" width="14.39" height="4.50" rx="2.59" ry="2.25" fill="#000" opacity="0.90" filter="url(#bl)"/>
<text x="473" y="426.2" font-size="8.6" text-anchor="start" font-weight="normal" fill="#1e1e1e" textLength="26.7" lengthAdjust="spacingAndGlyphs" >FOXO1</text>
<rect x="331.4" y="432.6" width="33.9" height="9.7" fill="#dfdfdf" stroke="#6c6c6c" stroke-width="0.9" filter="url(#bs)"/>
<rect x="332.6" y="433.7" width="31.6" height="7.4" fill="#e9e9e9" filter="url(#bl)"/>
<rect x="332.00" y="433.10" width="18.10" height="8.60" rx="1.5" fill="#000" opacity="0.85" filter="url(#bl)"/>
<rect x="332.57" y="433.40" width="14.96" height="8.00" rx="3.40" ry="3.40" fill="#000" opacity="1.00" filter="url(#bl)"/>
<rect x="350.31" y="436.71" width="14.27" height="3.50" rx="2.01" ry="1.75" fill="#000" opacity="0.85" filter="url(#bl)"/>
<rect x="377.1" y="432.6" width="34.0" height="9.7" fill="#dfdfdf" stroke="#6c6c6c" stroke-width="0.9" filter="url(#bs)"/>
<rect x="378.3" y="433.7" width="31.7" height="7.4" fill="#e9e9e9" filter="url(#bl)"/>
<rect x="378.62" y="436.46" width="14.31" height="4.00" rx="2.30" ry="2.00" fill="#000" opacity="0.95" filter="url(#bl)"/>
<rect x="396.07" y="436.96" width="14.31" height="3.00" rx="1.72" ry="1.50" fill="#000" opacity="0.75" filter="url(#bl)"/>
<rect x="420.6" y="432.6" width="34.2" height="9.7" fill="#dfdfdf" stroke="#6c6c6c" stroke-width="0.9" filter="url(#bs)"/>
<rect x="421.8" y="433.7" width="31.9" height="7.4" fill="#e9e9e9" filter="url(#bl)"/>
<rect x="422.13" y="437.46" width="14.39" height="2.00" rx="1.15" ry="1.00" fill="#000" opacity="0.15" filter="url(#bl)"/>
<rect x="439.68" y="435.65" width="14.39" height="3.50" rx="2.01" ry="1.75" fill="#000" opacity="0.85" filter="url(#bl)"/>
<text x="473" y="439.3" font-size="8.6" text-anchor="start" font-weight="normal" fill="#1e1e1e" textLength="39.5" lengthAdjust="spacingAndGlyphs" >H3K27me3</text>
<rect x="331.4" y="445.1" width="33.9" height="5.5" fill="#dfdfdf" stroke="#6c6c6c" stroke-width="0.9" filter="url(#bs)"/>
<rect x="332.6" y="446.2" width="31.6" height="3.2" fill="#e9e9e9" filter="url(#bl)"/>
<rect x="332.91" y="446.05" width="14.27" height="3.50" rx="2.01" ry="1.75" fill="#000" opacity="0.90" filter="url(#bl)"/>
<rect x="350.31" y="446.05" width="14.27" height="3.50" rx="2.01" ry="1.75" fill="#000" opacity="0.90" filter="url(#bl)"/>
<rect x="377.1" y="445.1" width="34.0" height="5.5" fill="#dfdfdf" stroke="#6c6c6c" stroke-width="0.9" filter="url(#bs)"/>
<rect x="378.3" y="446.2" width="31.7" height="3.2" fill="#e9e9e9" filter="url(#bl)"/>
<rect x="378.62" y="446.05" width="14.31" height="3.50" rx="2.01" ry="1.75" fill="#000" opacity="0.90" filter="url(#bl)"/>
<rect x="396.07" y="446.05" width="14.31" height="3.50" rx="2.01" ry="1.75" fill="#000" opacity="0.90" filter="url(#bl)"/>
<rect x="420.6" y="445.1" width="34.2" height="5.5" fill="#dfdfdf" stroke="#6c6c6c" stroke-width="0.9" filter="url(#bs)"/>
<rect x="421.8" y="446.2" width="31.9" height="3.2" fill="#e9e9e9" filter="url(#bl)"/>
<rect x="422.13" y="446.30" width="14.39" height="3.00" rx="1.72" ry="1.50" fill="#000" opacity="0.85" filter="url(#bl)"/>
<rect x="439.68" y="446.30" width="14.39" height="3.00" rx="1.72" ry="1.50" fill="#000" opacity="0.90" filter="url(#bl)"/>
<text x="473" y="449.7" font-size="8.6" text-anchor="start" font-weight="normal" fill="#1e1e1e" textLength="10" lengthAdjust="spacingAndGlyphs" >H3</text>
<rect x="331.4" y="454.2" width="33.9" height="7.2" fill="#dfdfdf" stroke="#6c6c6c" stroke-width="0.9" filter="url(#bs)"/>
<rect x="332.6" y="455.4" width="31.6" height="4.9" fill="#e9e9e9" filter="url(#bl)"/>
<rect x="332.91" y="455.60" width="14.27" height="4.50" rx="2.59" ry="2.25" fill="#000" opacity="0.90" filter="url(#bl)"/>
<rect x="350.31" y="455.10" width="14.27" height="5.50" rx="3.16" ry="2.75" fill="#000" opacity="1.00" filter="url(#bl)"/>
<rect x="377.1" y="454.2" width="34.0" height="7.2" fill="#dfdfdf" stroke="#6c6c6c" stroke-width="0.9" filter="url(#bs)"/>
<rect x="378.3" y="455.4" width="31.7" height="4.9" fill="#e9e9e9" filter="url(#bl)"/>
<rect x="378.62" y="455.85" width="14.31" height="4.00" rx="2.30" ry="2.00" fill="#000" opacity="0.95" filter="url(#bl)"/>
<rect x="396.07" y="455.85" width="14.31" height="4.00" rx="2.30" ry="2.00" fill="#000" opacity="0.95" filter="url(#bl)"/>
<rect x="420.6" y="454.2" width="34.2" height="7.2" fill="#dfdfdf" stroke="#6c6c6c" stroke-width="0.9" filter="url(#bs)"/>
<rect x="421.8" y="455.4" width="31.9" height="4.9" fill="#e9e9e9" filter="url(#bl)"/>
<rect x="422.13" y="455.85" width="14.39" height="4.00" rx="2.30" ry="2.00" fill="#000" opacity="0.95" filter="url(#bl)"/>
<rect x="439.68" y="456.10" width="14.39" height="3.50" rx="2.01" ry="1.75" fill="#000" opacity="0.90" filter="url(#bl)"/>
<text x="473" y="460.1" font-size="8.6" text-anchor="start" font-weight="normal" fill="#1e1e1e" textLength="12.1" lengthAdjust="spacingAndGlyphs" >ID2</text>
<rect x="331.4" y="465.2" width="33.9" height="5.5" fill="#dfdfdf" stroke="#6c6c6c" stroke-width="0.9" filter="url(#bs)"/>
<rect x="332.6" y="466.4" width="31.6" height="3.2" fill="#e9e9e9" filter="url(#bl)"/>
<rect x="332.91" y="466.00" width="14.27" height="4.00" rx="2.30" ry="2.00" fill="#000" opacity="1.00" filter="url(#bl)"/>
<rect x="350.31" y="466.75" width="14.27" height="2.50" rx="1.44" ry="1.25" fill="#000" opacity="0.85" filter="url(#bl)"/>
<rect x="377.1" y="465.2" width="34.0" height="5.5" fill="#dfdfdf" stroke="#6c6c6c" stroke-width="0.9" filter="url(#bs)"/>
<rect x="378.3" y="466.4" width="31.7" height="3.2" fill="#e9e9e9" filter="url(#bl)"/>
<rect x="378.62" y="466.75" width="14.31" height="2.50" rx="1.44" ry="1.25" fill="#000" opacity="0.90" filter="url(#bl)"/>
<rect x="396.07" y="466.25" width="14.31" height="3.50" rx="2.01" ry="1.75" fill="#000" opacity="0.95" filter="url(#bl)"/>
<rect x="420.6" y="465.2" width="34.2" height="5.5" fill="#dfdfdf" stroke="#6c6c6c" stroke-width="0.9" filter="url(#bs)"/>
<rect x="421.8" y="466.4" width="31.9" height="3.2" fill="#e9e9e9" filter="url(#bl)"/>
<rect x="422.13" y="467.00" width="14.39" height="2.00" rx="1.15" ry="1.00" fill="#000" opacity="0.50" filter="url(#bl)"/>
<rect x="439.68" y="466.50" width="14.39" height="3.00" rx="1.72" ry="1.50" fill="#000" opacity="0.90" filter="url(#bl)"/>
<text x="473" y="470.1" font-size="8.6" text-anchor="start" font-weight="normal" fill="#1e1e1e" textLength="12.1" lengthAdjust="spacingAndGlyphs" >ID3</text>
<rect x="331.4" y="476.4" width="33.9" height="9.1" fill="#dfdfdf" stroke="#6c6c6c" stroke-width="0.9" filter="url(#bs)"/>
<rect x="332.6" y="477.6" width="31.6" height="6.8" fill="#e9e9e9" filter="url(#bl)"/>
<rect x="332.91" y="478.25" width="14.27" height="5.50" rx="3.16" ry="2.75" fill="#000" opacity="1.00" filter="url(#bl)"/>
<rect x="350.31" y="478.25" width="14.27" height="5.50" rx="3.16" ry="2.75" fill="#000" opacity="1.00" filter="url(#bl)"/>
<rect x="377.1" y="476.4" width="34.0" height="9.1" fill="#dfdfdf" stroke="#6c6c6c" stroke-width="0.9" filter="url(#bs)"/>
<rect x="378.3" y="477.6" width="31.7" height="6.8" fill="#e9e9e9" filter="url(#bl)"/>
<rect x="378.62" y="478.00" width="14.31" height="6.00" rx="3.40" ry="3.00" fill="#000" opacity="1.00" filter="url(#bl)"/>
<rect x="396.07" y="479.00" width="14.31" height="4.00" rx="2.30" ry="2.00" fill="#000" opacity="0.75" filter="url(#bl)"/>
<rect x="420.6" y="476.4" width="34.2" height="9.1" fill="#dfdfdf" stroke="#6c6c6c" stroke-width="0.9" filter="url(#bs)"/>
<rect x="421.8" y="477.6" width="31.9" height="6.8" fill="#e9e9e9" filter="url(#bl)"/>
<rect x="422.13" y="478.00" width="14.39" height="6.00" rx="3.40" ry="3.00" fill="#000" opacity="1.00" filter="url(#bl)"/>
<rect x="439.68" y="478.75" width="14.39" height="4.50" rx="2.59" ry="2.25" fill="#000" opacity="0.90" filter="url(#bl)"/>
<text x="473" y="482.5" font-size="8.6" text-anchor="start" font-weight="normal" fill="#1e1e1e" textLength="19.5" lengthAdjust="spacingAndGlyphs" >EZH2</text>
<rect x="331.4" y="489.2" width="33.9" height="8.8" fill="#dfdfdf" stroke="#6c6c6c" stroke-width="0.9" filter="url(#bs)"/>
<rect x="332.6" y="490.4" width="31.6" height="6.5" fill="#e9e9e9" filter="url(#bl)"/>
<rect x="332.91" y="491.90" width="14.27" height="3.50" rx="2.01" ry="1.75" fill="#000" opacity="0.95" filter="url(#bl)"/>
<rect x="350.31" y="491.90" width="14.27" height="3.50" rx="2.01" ry="1.75" fill="#000" opacity="0.95" filter="url(#bl)"/>
<rect x="377.1" y="489.2" width="34.0" height="8.8" fill="#dfdfdf" stroke="#6c6c6c" stroke-width="0.9" filter="url(#bs)"/>
<rect x="378.3" y="490.4" width="31.7" height="6.5" fill="#e9e9e9" filter="url(#bl)"/>
<rect x="378.62" y="491.90" width="14.31" height="3.50" rx="2.01" ry="1.75" fill="#000" opacity="0.95" filter="url(#bl)"/>
<rect x="396.07" y="491.90" width="14.31" height="3.50" rx="2.01" ry="1.75" fill="#000" opacity="0.95" filter="url(#bl)"/>
<rect x="420.6" y="489.2" width="34.2" height="8.8" fill="#dfdfdf" stroke="#6c6c6c" stroke-width="0.9" filter="url(#bs)"/>
<rect x="421.8" y="490.4" width="31.9" height="6.5" fill="#e9e9e9" filter="url(#bl)"/>
<rect x="422.13" y="491.90" width="14.39" height="3.50" rx="2.01" ry="1.75" fill="#000" opacity="0.95" filter="url(#bl)"/>
<rect x="439.68" y="491.90" width="14.39" height="3.50" rx="2.01" ry="1.75" fill="#000" opacity="0.95" filter="url(#bl)"/>
<text x="473" y="495.3" font-size="8.6" text-anchor="start" font-weight="normal" fill="#1e1e1e" textLength="24.2" lengthAdjust="spacingAndGlyphs" >β-actin</text>
<rect x="331.4" y="502.3" width="33.9" height="8.7" fill="#dfdfdf" stroke="#6c6c6c" stroke-width="0.9" filter="url(#bs)"/>
<rect x="332.6" y="503.5" width="31.6" height="6.4" fill="#e9e9e9" filter="url(#bl)"/>
<rect x="332.91" y="505.20" width="14.27" height="3.00" rx="1.72" ry="1.50" fill="#000" opacity="0.85" filter="url(#bl)"/>
<rect x="350.31" y="504.70" width="14.27" height="4.00" rx="2.30" ry="2.00" fill="#000" opacity="1.00" filter="url(#bl)"/>
<rect x="377.1" y="502.3" width="34.0" height="8.7" fill="#dfdfdf" stroke="#6c6c6c" stroke-width="0.9" filter="url(#bs)"/>
<rect x="378.3" y="503.5" width="31.7" height="6.4" fill="#e9e9e9" filter="url(#bl)"/>
<rect x="378.62" y="504.70" width="14.31" height="4.00" rx="2.30" ry="2.00" fill="#000" opacity="0.90" filter="url(#bl)"/>
<rect x="396.07" y="504.70" width="14.31" height="4.00" rx="2.30" ry="2.00" fill="#000" opacity="0.90" filter="url(#bl)"/>
<rect x="420.6" y="502.3" width="34.2" height="8.7" fill="#dfdfdf" stroke="#6c6c6c" stroke-width="0.9" filter="url(#bs)"/>
<rect x="421.8" y="503.5" width="31.9" height="6.4" fill="#e9e9e9" filter="url(#bl)"/>
<rect x="422.13" y="504.95" width="14.39" height="3.50" rx="2.01" ry="1.75" fill="#000" opacity="0.90" filter="url(#bl)"/>
<rect x="439.68" y="504.95" width="14.39" height="3.50" rx="2.01" ry="1.75" fill="#000" opacity="0.90" filter="url(#bl)"/>
<text x="473" y="508.2" font-size="8.6" text-anchor="start" font-weight="normal" fill="#1e1e1e" textLength="28.1" lengthAdjust="spacingAndGlyphs" >GAPDH</text>
<text x="8.3" y="534.8" font-size="15.3" text-anchor="start" font-weight="bold" fill="#000" textLength="9.2" lengthAdjust="spacingAndGlyphs" stroke="#000" stroke-width="0.3">E</text>
<line x1="33.1" y1="540.5" x2="33.1" y2="643.6" stroke="#1a1a1a" stroke-width="1.2" />
<line x1="32.5" y1="643" x2="99.4" y2="643" stroke="#1a1a1a" stroke-width="1.2" />
<line x1="30.3" y1="643.0" x2="33.1" y2="643.0" stroke="#1a1a1a" stroke-width="1" />
<text x="28.6" y="645.8" font-size="8" text-anchor="end" font-weight="normal" fill="#222" >0</text>
<line x1="30.3" y1="609.0" x2="33.1" y2="609.0" stroke="#1a1a1a" stroke-width="1" />
<text x="28.6" y="611.8" font-size="8" text-anchor="end" font-weight="normal" fill="#222" >5</text>
<line x1="30.3" y1="575.0" x2="33.1" y2="575.0" stroke="#1a1a1a" stroke-width="1" />
<text x="28.6" y="577.8" font-size="8" text-anchor="end" font-weight="normal" fill="#222" >10</text>
<line x1="30.3" y1="541.0" x2="33.1" y2="541.0" stroke="#1a1a1a" stroke-width="1" />
<text x="28.6" y="543.8" font-size="8" text-anchor="end" font-weight="normal" fill="#222" >15</text>
<line x1="67.6" y1="643" x2="67.6" y2="645.8" stroke="#1a1a1a" stroke-width="1" />
<line x1="53" y1="636.2" x2="81.6" y2="577.312" stroke="#1c4f87" stroke-width="1.3" />
<circle cx="81.6" cy="577.3" r="1.5" fill="#1c4f87"/>
<line x1="53" y1="636.2" x2="81.6" y2="615.8" stroke="#1c4f87" stroke-width="1.3" />
<circle cx="81.6" cy="615.8" r="1.5" fill="#1c4f87"/>
<line x1="53" y1="636.2" x2="81.6" y2="619.2" stroke="#1c4f87" stroke-width="1.3" />
<circle cx="81.6" cy="619.2" r="1.5" fill="#1c4f87"/>
<line x1="53" y1="636.2" x2="81.6" y2="623.28" stroke="#1c4f87" stroke-width="1.3" />
<circle cx="81.6" cy="623.3" r="1.5" fill="#1c4f87"/>
<line x1="53" y1="636.2" x2="81.6" y2="630.76" stroke="#1c4f87" stroke-width="1.3" />
<circle cx="81.6" cy="630.8" r="1.5" fill="#1c4f87"/>
<line x1="53" y1="636.2" x2="81.6" y2="636.404" stroke="#1c4f87" stroke-width="1.3" />
<circle cx="81.6" cy="636.4" r="1.5" fill="#1c4f87"/>
<circle cx="53.0" cy="636.2" r="1.6" fill="#d0202a"/>
<line x1="53.8" y1="561.9" x2="81.4" y2="561.9" stroke="#444" stroke-width="1.2" />
<text x="67.6" y="562.9" font-size="10" text-anchor="middle" font-weight="normal" fill="#111" >*</text>
<text transform="translate(14.1,591.5) rotate(-90)" x="0" y="0" font-size="9.6" text-anchor="middle" font-weight="normal" fill="#222" textLength="93.5" lengthAdjust="spacingAndGlyphs" >SIRT1 normalized to loading</text>
<text x="48.0" y="653.6" font-size="6.8" text-anchor="middle" font-weight="normal" fill="#333" textLength="15.5" lengthAdjust="spacingAndGlyphs" >mean</text>
<text x="48.0" y="660.2" font-size="6.8" text-anchor="middle" font-weight="normal" fill="#333" textLength="29" lengthAdjust="spacingAndGlyphs" >normalized</text>
<text x="48.0" y="666.8" font-size="6.8" text-anchor="middle" font-weight="normal" fill="#333" textLength="19" lengthAdjust="spacingAndGlyphs" >control</text>
<text x="81.6" y="653.6" font-size="6.8" text-anchor="middle" font-weight="normal" fill="#333" textLength="23" lengthAdjust="spacingAndGlyphs" >duvelisib</text>
<text x="67.6" y="683.0" font-size="8.6" text-anchor="middle" font-weight="normal" fill="#1a1a1a" textLength="24.8" lengthAdjust="spacingAndGlyphs" >Day 15</text>
<line x1="131.8" y1="540.9" x2="131.8" y2="643.6" stroke="#1a1a1a" stroke-width="1.2" />
<line x1="131.20000000000002" y1="643" x2="197.5" y2="643" stroke="#1a1a1a" stroke-width="1.2" />
<line x1="129.0" y1="643.0" x2="131.8" y2="643.0" stroke="#1a1a1a" stroke-width="1" />
<text x="127.30000000000001" y="645.8" font-size="8" text-anchor="end" font-weight="normal" fill="#222" >0</text>
<line x1="129.0" y1="617.6" x2="131.8" y2="617.6" stroke="#1a1a1a" stroke-width="1" />
<text x="127.30000000000001" y="620.4" font-size="8" text-anchor="end" font-weight="normal" fill="#222" >2</text>
<line x1="129.0" y1="592.2" x2="131.8" y2="592.2" stroke="#1a1a1a" stroke-width="1" />
<text x="127.30000000000001" y="595.0" font-size="8" text-anchor="end" font-weight="normal" fill="#222" >4</text>
<line x1="129.0" y1="566.8" x2="131.8" y2="566.8" stroke="#1a1a1a" stroke-width="1" />
<text x="127.30000000000001" y="569.5999999999999" font-size="8" text-anchor="end" font-weight="normal" fill="#222" >6</text>
<line x1="129.0" y1="541.4" x2="131.8" y2="541.4" stroke="#1a1a1a" stroke-width="1" />
<text x="127.30000000000001" y="544.1999999999999" font-size="8" text-anchor="end" font-weight="normal" fill="#222" >8</text>
<line x1="165.5" y1="643" x2="165.5" y2="645.8" stroke="#1a1a1a" stroke-width="1" />
<line x1="151.2" y1="630.8" x2="180.3" y2="560.6" stroke="#1c4f87" stroke-width="1.3" />
<circle cx="180.3" cy="560.6" r="1.5" fill="#1c4f87"/>
<line x1="151.2" y1="630.8" x2="180.3" y2="605.9" stroke="#1c4f87" stroke-width="1.3" />
<circle cx="180.3" cy="605.9" r="1.5" fill="#1c4f87"/>
<line x1="151.2" y1="630.8" x2="180.3" y2="619.2" stroke="#1c4f87" stroke-width="1.3" />
<circle cx="180.3" cy="619.2" r="1.5" fill="#1c4f87"/>
<circle cx="151.2" cy="630.8" r="1.6" fill="#d0202a"/>
<line x1="151.2" y1="547.0" x2="180" y2="547.0" stroke="#444" stroke-width="1.2" />
<text x="164.0" y="548.0" font-size="10" text-anchor="middle" font-weight="normal" fill="#111" >*</text>
<text transform="translate(114.1,591.8) rotate(-90)" x="0" y="0" font-size="9.6" text-anchor="middle" font-weight="normal" fill="#222" textLength="97.5" lengthAdjust="spacingAndGlyphs" >FOXO1 normalized to loading</text>
<text x="147.2" y="653.6" font-size="6.8" text-anchor="middle" font-weight="normal" fill="#333" textLength="15.5" lengthAdjust="spacingAndGlyphs" >mean</text>
<text x="147.2" y="660.2" font-size="6.8" text-anchor="middle" font-weight="normal" fill="#333" textLength="29" lengthAdjust="spacingAndGlyphs" >normalized</text>
<text x="147.2" y="666.8" font-size="6.8" text-anchor="middle" font-weight="normal" fill="#333" textLength="19" lengthAdjust="spacingAndGlyphs" >control</text>
<text x="180.70000000000002" y="653.6" font-size="6.8" text-anchor="middle" font-weight="normal" fill="#333" textLength="23" lengthAdjust="spacingAndGlyphs" >duvelisib</text>
<text x="165.5" y="683.0" font-size="8.6" text-anchor="middle" font-weight="normal" fill="#1a1a1a" textLength="24.8" lengthAdjust="spacingAndGlyphs" >Day 15</text>
<line x1="233.7" y1="540.98" x2="233.7" y2="643.6" stroke="#1a1a1a" stroke-width="1.2" />
<line x1="233.1" y1="643" x2="299.4" y2="643" stroke="#1a1a1a" stroke-width="1.2" />
<line x1="230.89999999999998" y1="643.0" x2="233.7" y2="643.0" stroke="#1a1a1a" stroke-width="1" />
<text x="229.2" y="645.8" font-size="8" text-anchor="end" font-weight="normal" fill="#222" >0</text>
<line x1="230.89999999999998" y1="617.62" x2="233.7" y2="617.62" stroke="#1a1a1a" stroke-width="1" />
<text x="229.2" y="620.42" font-size="8" text-anchor="end" font-weight="normal" fill="#222" >2</text>
<line x1="230.89999999999998" y1="592.24" x2="233.7" y2="592.24" stroke="#1a1a1a" stroke-width="1" />
<text x="229.2" y="595.04" font-size="8" text-anchor="end" font-weight="normal" fill="#222" >4</text>
<line x1="230.89999999999998" y1="566.86" x2="233.7" y2="566.86" stroke="#1a1a1a" stroke-width="1" />
<text x="229.2" y="569.66" font-size="8" text-anchor="end" font-weight="normal" fill="#222" >6</text>
<line x1="230.89999999999998" y1="541.48" x2="233.7" y2="541.48" stroke="#1a1a1a" stroke-width="1" />
<text x="229.2" y="544.28" font-size="8" text-anchor="end" font-weight="normal" fill="#222" >8</text>
<line x1="267.6" y1="643" x2="267.6" y2="645.8" stroke="#1a1a1a" stroke-width="1" />
<line x1="252.5" y1="630.3" x2="282.2" y2="556.1" stroke="#1c4f87" stroke-width="1.3" />
<circle cx="282.2" cy="556.1" r="1.5" fill="#1c4f87"/>
<line x1="252.5" y1="630.3" x2="282.2" y2="594.5" stroke="#1c4f87" stroke-width="1.3" />
<circle cx="282.2" cy="594.5" r="1.5" fill="#1c4f87"/>
<line x1="252.5" y1="630.3" x2="282.2" y2="601.7" stroke="#1c4f87" stroke-width="1.3" />
<circle cx="282.2" cy="601.7" r="1.5" fill="#1c4f87"/>
<line x1="252.5" y1="630.3" x2="282.2" y2="615.7" stroke="#1c4f87" stroke-width="1.3" />
<circle cx="282.2" cy="615.7" r="1.5" fill="#1c4f87"/>
<line x1="252.5" y1="630.3" x2="282.2" y2="619.2" stroke="#1c4f87" stroke-width="1.3" />
<circle cx="282.2" cy="619.2" r="1.5" fill="#1c4f87"/>
<circle cx="252.5" cy="630.3" r="1.6" fill="#d0202a"/>
<line x1="250.4" y1="542.3" x2="283" y2="542.3" stroke="#444" stroke-width="1.2" />
<text x="266.7" y="543.3" font-size="10" text-anchor="middle" font-weight="normal" fill="#111" >*</text>
<text transform="translate(214.1,591.8) rotate(-90)" x="0" y="0" font-size="9.6" text-anchor="middle" font-weight="normal" fill="#222" textLength="97.5" lengthAdjust="spacingAndGlyphs" >TCF1/7 normalized to loading</text>
<text x="248.3" y="653.6" font-size="6.8" text-anchor="middle" font-weight="normal" fill="#333" textLength="15.5" lengthAdjust="spacingAndGlyphs" >mean</text>
<text x="248.3" y="660.2" font-size="6.8" text-anchor="middle" font-weight="normal" fill="#333" textLength="29" lengthAdjust="spacingAndGlyphs" >normalized</text>
<text x="248.3" y="666.8" font-size="6.8" text-anchor="middle" font-weight="normal" fill="#333" textLength="19" lengthAdjust="spacingAndGlyphs" >control</text>
<text x="282.2" y="653.6" font-size="6.8" text-anchor="middle" font-weight="normal" fill="#333" textLength="23" lengthAdjust="spacingAndGlyphs" >duvelisib</text>
<text x="267.6" y="683.0" font-size="8.6" text-anchor="middle" font-weight="normal" fill="#1a1a1a" textLength="24.8" lengthAdjust="spacingAndGlyphs" >Day 15</text>
<line x1="339.3" y1="544.1" x2="339.3" y2="643.6" stroke="#1a1a1a" stroke-width="1.2" />
<line x1="338.7" y1="643" x2="407.5" y2="643" stroke="#1a1a1a" stroke-width="1.2" />
<line x1="336.5" y1="643.0" x2="339.3" y2="643.0" stroke="#1a1a1a" stroke-width="1" />
<text x="334.8" y="645.8" font-size="8" text-anchor="end" font-weight="normal" fill="#222" >0.0</text>
<line x1="336.5" y1="618.4" x2="339.3" y2="618.4" stroke="#1a1a1a" stroke-width="1" />
<text x="334.8" y="621.1999999999999" font-size="8" text-anchor="end" font-weight="normal" fill="#222" >0.5</text>
<line x1="336.5" y1="593.8" x2="339.3" y2="593.8" stroke="#1a1a1a" stroke-width="1" />
<text x="334.8" y="596.5999999999999" font-size="8" text-anchor="end" font-weight="normal" fill="#222" >1.0</text>
<line x1="336.5" y1="569.2" x2="339.3" y2="569.2" stroke="#1a1a1a" stroke-width="1" />
<text x="334.8" y="572.0" font-size="8" text-anchor="end" font-weight="normal" fill="#222" >1.5</text>
<line x1="336.5" y1="544.6" x2="339.3" y2="544.6" stroke="#1a1a1a" stroke-width="1" />
<text x="334.8" y="547.4" font-size="8" text-anchor="end" font-weight="normal" fill="#222" >2.0</text>
<line x1="372.2" y1="643" x2="372.2" y2="645.8" stroke="#1a1a1a" stroke-width="1" />
<line x1="358.4" y1="593.8" x2="386.3" y2="550.3" stroke="#1c4f87" stroke-width="1.3" />
<circle cx="386.3" cy="550.3" r="1.5" fill="#1c4f87"/>
<line x1="358.4" y1="593.8" x2="386.3" y2="557.5" stroke="#1c4f87" stroke-width="1.3" />
<circle cx="386.3" cy="557.5" r="1.5" fill="#1c4f87"/>
<line x1="358.4" y1="593.8" x2="386.3" y2="577.4" stroke="#1c4f87" stroke-width="1.3" />
<circle cx="386.3" cy="577.4" r="1.5" fill="#1c4f87"/>
<line x1="358.4" y1="593.8" x2="386.3" y2="587.2" stroke="#1c4f87" stroke-width="1.3" />
<circle cx="386.3" cy="587.2" r="1.5" fill="#1c4f87"/>
<circle cx="358.4" cy="593.8" r="1.6" fill="#d0202a"/>
<line x1="355.7" y1="540.7" x2="386.3" y2="540.7" stroke="#444" stroke-width="1.2" />
<text x="371.0" y="541.7" font-size="10" text-anchor="middle" font-weight="normal" fill="#111" >*</text>
<text transform="translate(314.9,591.3) rotate(-90)" x="0" y="0" font-size="9.6" text-anchor="middle" font-weight="normal" fill="#222" textLength="112.5" lengthAdjust="spacingAndGlyphs" >H3K27me3 normalized to loading</text>
<text x="355.2" y="653.6" font-size="6.8" text-anchor="middle" font-weight="normal" fill="#333" textLength="15.5" lengthAdjust="spacingAndGlyphs" >mean</text>
<text x="355.2" y="660.2" font-size="6.8" text-anchor="middle" font-weight="normal" fill="#333" textLength="29" lengthAdjust="spacingAndGlyphs" >normalized</text>
<text x="355.2" y="666.8" font-size="6.8" text-anchor="middle" font-weight="normal" fill="#333" textLength="19" lengthAdjust="spacingAndGlyphs" >control</text>
<text x="387.5" y="653.6" font-size="6.8" text-anchor="middle" font-weight="normal" fill="#333" textLength="23" lengthAdjust="spacingAndGlyphs" >duvelisib</text>
<text x="372.2" y="683.0" font-size="8.6" text-anchor="middle" font-weight="normal" fill="#1a1a1a" textLength="24.8" lengthAdjust="spacingAndGlyphs" >Day 15</text>
<text x="407.2" y="534.8" font-size="15.3" text-anchor="start" font-weight="bold" fill="#000" stroke="#000" stroke-width="0.3">F</text>
<line x1="449.9" y1="546.9" x2="449.9" y2="644.1" stroke="#1a1a1a" stroke-width="1.2" />
<line x1="449.3" y1="643.5" x2="512" y2="643.5" stroke="#1a1a1a" stroke-width="1.2" />
<line x1="447.1" y1="643.5" x2="449.9" y2="643.5" stroke="#1a1a1a" stroke-width="1" />
<text x="445.2" y="646.2" font-size="7.6" text-anchor="end" font-weight="normal" fill="#222" >0</text>
<line x1="447.1" y1="624.28" x2="449.9" y2="624.28" stroke="#1a1a1a" stroke-width="1" />
<text x="445.2" y="626.98" font-size="7.6" text-anchor="end" font-weight="normal" fill="#222" >10</text>
<line x1="447.1" y1="605.06" x2="449.9" y2="605.06" stroke="#1a1a1a" stroke-width="1" />
<text x="445.2" y="607.76" font-size="7.6" text-anchor="end" font-weight="normal" fill="#222" >20</text>
<line x1="447.1" y1="585.84" x2="449.9" y2="585.84" stroke="#1a1a1a" stroke-width="1" />
<text x="445.2" y="588.5400000000001" font-size="7.6" text-anchor="end" font-weight="normal" fill="#222" >30</text>
<line x1="447.1" y1="566.62" x2="449.9" y2="566.62" stroke="#1a1a1a" stroke-width="1" />
<text x="445.2" y="569.32" font-size="7.6" text-anchor="end" font-weight="normal" fill="#222" >40</text>
<line x1="447.1" y1="547.4" x2="449.9" y2="547.4" stroke="#1a1a1a" stroke-width="1" />
<text x="445.2" y="550.1" font-size="7.6" text-anchor="end" font-weight="normal" fill="#222" >50</text>
<line x1="468.5" y1="643.5" x2="468.5" y2="646.2" stroke="#1a1a1a" stroke-width="1" />
<line x1="496.1" y1="643.5" x2="496.1" y2="646.2" stroke="#1a1a1a" stroke-width="1" />
<line x1="468.5" y1="539.7" x2="496.9" y2="539.7" stroke="#444" stroke-width="1.2" />
<text x="483.3" y="541.2" font-size="10" text-anchor="middle" font-weight="normal" fill="#111" >*</text>
<circle cx="468.5" cy="602.8" r="1.5" fill="#d0202a"/>
<circle cx="462.3" cy="612.6" r="1.5" fill="#d0202a"/>
<circle cx="468.6" cy="611.9" r="1.5" fill="#d0202a"/>
<circle cx="474.2" cy="612.6" r="1.5" fill="#d0202a"/>
<circle cx="468.5" cy="615.2" r="1.5" fill="#d0202a"/>
<circle cx="468.5" cy="625.4" r="1.5" fill="#d0202a"/>
<line x1="459.7" y1="612.5" x2="477.7" y2="612.5" stroke="#d0202a" stroke-width="1.2" />
<circle cx="496.0" cy="557.1" r="1.5" fill="#1a5590"/>
<circle cx="493.4" cy="585.7" r="1.5" fill="#1a5590"/>
<circle cx="499.1" cy="586.0" r="1.5" fill="#1a5590"/>
<circle cx="493.4" cy="595.1" r="1.5" fill="#1a5590"/>
<circle cx="499.1" cy="595.1" r="1.5" fill="#1a5590"/>
<circle cx="496.0" cy="625.9" r="1.5" fill="#1a5590"/>
<line x1="487.1" y1="590.3" x2="505.4" y2="590.3" stroke="#1a5590" stroke-width="1.2" />
<text transform="translate(418.7,592.5) rotate(-90)" x="0" y="0" font-size="8.8" text-anchor="middle" font-weight="normal" fill="#222" textLength="26.5" lengthAdjust="spacingAndGlyphs" >TCF1/7+</text>
<text transform="translate(430.5,592) rotate(-90)" x="0" y="0" font-size="8.8" text-anchor="middle" font-weight="normal" fill="#222" textLength="103" lengthAdjust="spacingAndGlyphs" >as % CD8+Gata3+CD95+ cells</text>
<text transform="translate(470.8,654.2) rotate(-45)" x="0" y="0" font-size="8" text-anchor="end" font-weight="normal" fill="#1a1a1a" textLength="43" lengthAdjust="spacingAndGlyphs" >0.1% DMSO</text>
<text transform="translate(498.4,654.2) rotate(-45)" x="0" y="0" font-size="8" text-anchor="end" font-weight="normal" fill="#1a1a1a" textLength="59" lengthAdjust="spacingAndGlyphs" >300nM duvelisib</text>
<rect x="0.8" y="0.8" width="518.4" height="699.4" fill="none" stroke="#000" stroke-width="1.6"/>
</svg></body></html>
